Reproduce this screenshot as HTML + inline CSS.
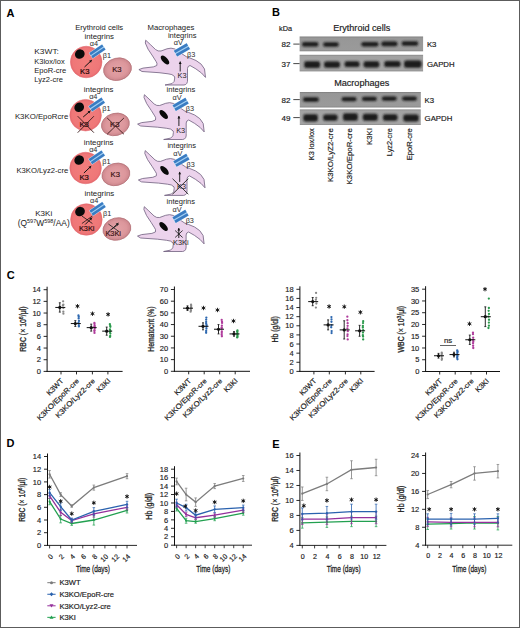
<!DOCTYPE html>
<html><head><meta charset="utf-8"><style>
html,body{margin:0;padding:0;background:#fff;}
#fig{position:absolute;left:0;top:0;width:520px;height:628px;overflow:hidden;}
svg text{font-family:"Liberation Sans", sans-serif;}
</style></head><body>
<div id="fig"><svg width="520" height="628" viewBox="0 0 520 628" font-family='"Liberation Sans", sans-serif'>
<defs>
<radialGradient id="gBig" cx="0.5" cy="0.5" r="0.5"><stop offset="0" stop-color="#f27e7c"/><stop offset="0.85" stop-color="#ef7778"/><stop offset="1" stop-color="#e66a6e"/></radialGradient>
<radialGradient id="gSmall" cx="0.5" cy="0.5" r="0.5"><stop offset="0" stop-color="#e3a2a6"/><stop offset="0.7" stop-color="#dc979c"/><stop offset="0.92" stop-color="#d08a90"/><stop offset="1" stop-color="#c27e84"/></radialGradient>
<linearGradient id="gBlot" x1="0" y1="0" x2="0" y2="1"><stop offset="0" stop-color="#7c7c7c"/><stop offset="0.1" stop-color="#979797"/><stop offset="0.9" stop-color="#9a9a9a"/><stop offset="1" stop-color="#838383"/></linearGradient><linearGradient id="gBlot2" x1="0" y1="0" x2="0" y2="1"><stop offset="0" stop-color="#888888"/><stop offset="0.1" stop-color="#a2a2a2"/><stop offset="0.9" stop-color="#a4a4a4"/><stop offset="1" stop-color="#8c8c8c"/></linearGradient>
<filter id="blur" x="-20%" y="-50%" width="140%" height="200%"><feGaussianBlur stdDeviation="0.8"/></filter>
</defs>
<rect x="0" y="0" width="520" height="628" fill="#fff"/>
<text x="6.50" y="16.60" font-size="11" text-anchor="start" font-weight="bold" fill="#000" >A</text>
<text x="272.00" y="16.30" font-size="11" text-anchor="start" font-weight="bold" fill="#000" >B</text>
<text x="6.70" y="279.00" font-size="11" text-anchor="start" font-weight="bold" fill="#000" >C</text>
<text x="6.60" y="447.30" font-size="11" text-anchor="start" font-weight="bold" fill="#000" >D</text>
<text x="272.20" y="447.60" font-size="11" text-anchor="start" font-weight="bold" fill="#000" >E</text>
<text x="99.20" y="29.50" font-size="8.1" text-anchor="middle" font-weight="normal" fill="#222" stroke="none" textLength="48.0" lengthAdjust="spacingAndGlyphs">Erythroid cells</text>
<text x="170.90" y="29.50" font-size="8.1" text-anchor="middle" font-weight="normal" fill="#222" stroke="none" textLength="46.8" lengthAdjust="spacingAndGlyphs">Macrophages</text>
<circle cx="86.20" cy="62.00" r="15.8" fill="url(#gBig)" stroke="#e3686e" stroke-width="0.5"/>
<ellipse cx="79.80" cy="54.10" rx="5.0" ry="4.6" fill="#0a0a0a" transform="rotate(-35 79.80 54.10)"/>
<g transform="translate(97.40,51.30) rotate(-34)"><rect x="-8.10" y="-3.50" width="16.20" height="7.00" fill="#e8f2fb" opacity="0.8"/><rect x="-7.70" y="-3.10" width="15.40" height="6.20" fill="#a6d2f4"/><rect x="-7.70" y="-3.10" width="15.40" height="2.55" fill="#3a7cc2"/><rect x="-7.70" y="0.55" width="15.40" height="2.55" fill="#3a7cc2"/></g>
<text x="93.90" y="45.80" font-size="7.3" text-anchor="middle" font-weight="normal" fill="#2c2c2c" stroke="none">α4</text>
<text x="107.00" y="58.00" font-size="7.3" text-anchor="middle" font-weight="normal" fill="#2c2c2c" stroke="none">β1</text>
<text x="99.20" y="38.70" font-size="8.1" text-anchor="middle" font-weight="normal" fill="#222" stroke="none" textLength="29.6" lengthAdjust="spacingAndGlyphs">integrins</text>
<ellipse cx="117.50" cy="69.20" rx="14.1" ry="11.1" fill="url(#gSmall)" stroke="#b8767c" stroke-width="0.8" transform="rotate(-14 117.50 69.20)"/>
<text x="84.80" y="73.90" font-size="7.7" text-anchor="middle" font-weight="normal" fill="#1a0505"  stroke="#1a0505" stroke-width="0.18">K3</text>
<text x="116.90" y="72.20" font-size="7.7" text-anchor="middle" font-weight="normal" fill="#3a1212"  stroke="#3a1212" stroke-width="0.18">K3</text>
<line x1="84.50" y1="67.00" x2="91.80" y2="60.10" stroke="#111" stroke-width="1.0" />
<polygon points="91.80,60.10 89.07,60.70 91.04,62.80" fill="#111"/>
<circle cx="85.60" cy="115.20" r="15.8" fill="url(#gBig)" stroke="#e3686e" stroke-width="0.5"/>
<ellipse cx="79.20" cy="107.30" rx="5.0" ry="4.6" fill="#0a0a0a" transform="rotate(-35 79.20 107.30)"/>
<g transform="translate(96.80,104.50) rotate(-34)"><rect x="-8.10" y="-3.50" width="16.20" height="7.00" fill="#e8f2fb" opacity="0.8"/><rect x="-7.70" y="-3.10" width="15.40" height="6.20" fill="#a6d2f4"/><rect x="-7.70" y="-3.10" width="15.40" height="2.55" fill="#3a7cc2"/><rect x="-7.70" y="0.55" width="15.40" height="2.55" fill="#3a7cc2"/></g>
<text x="93.30" y="99.00" font-size="7.3" text-anchor="middle" font-weight="normal" fill="#2c2c2c" stroke="none">α4</text>
<text x="106.40" y="111.20" font-size="7.3" text-anchor="middle" font-weight="normal" fill="#2c2c2c" stroke="none">β1</text>
<text x="98.60" y="91.90" font-size="8.1" text-anchor="middle" font-weight="normal" fill="#222" stroke="none" textLength="29.6" lengthAdjust="spacingAndGlyphs">integrins</text>
<ellipse cx="115.40" cy="124.40" rx="14.1" ry="11.1" fill="url(#gSmall)" stroke="#b8767c" stroke-width="0.8" transform="rotate(-14 115.40 124.40)"/>
<text x="84.20" y="127.10" font-size="7.7" text-anchor="middle" font-weight="normal" fill="#1a0505"  stroke="#1a0505" stroke-width="0.18">K3</text>
<text x="114.80" y="127.40" font-size="7.7" text-anchor="middle" font-weight="normal" fill="#3a1212"  stroke="#3a1212" stroke-width="0.18">K3</text>
<line x1="83.20" y1="117.00" x2="90.40" y2="110.80" stroke="#111" stroke-width="1.0" />
<polygon points="90.40,110.80 87.64,111.27 89.52,113.46" fill="#111"/>
<line x1="77.70" y1="116.20" x2="93.90" y2="132.70" stroke="#3a1a1a" stroke-width="0.9" />
<line x1="93.90" y1="116.20" x2="77.70" y2="132.70" stroke="#3a1a1a" stroke-width="0.9" />
<line x1="107.20" y1="118.00" x2="123.90" y2="134.20" stroke="#3a1a1a" stroke-width="0.9" />
<line x1="123.90" y1="118.00" x2="107.20" y2="134.20" stroke="#3a1a1a" stroke-width="0.9" />
<circle cx="85.60" cy="168.00" r="15.8" fill="url(#gBig)" stroke="#e3686e" stroke-width="0.5"/>
<ellipse cx="79.20" cy="160.10" rx="5.0" ry="4.6" fill="#0a0a0a" transform="rotate(-35 79.20 160.10)"/>
<g transform="translate(96.80,157.30) rotate(-34)"><rect x="-8.10" y="-3.50" width="16.20" height="7.00" fill="#e8f2fb" opacity="0.8"/><rect x="-7.70" y="-3.10" width="15.40" height="6.20" fill="#a6d2f4"/><rect x="-7.70" y="-3.10" width="15.40" height="2.55" fill="#3a7cc2"/><rect x="-7.70" y="0.55" width="15.40" height="2.55" fill="#3a7cc2"/></g>
<text x="93.30" y="151.80" font-size="7.3" text-anchor="middle" font-weight="normal" fill="#2c2c2c" stroke="none">α4</text>
<text x="106.40" y="164.00" font-size="7.3" text-anchor="middle" font-weight="normal" fill="#2c2c2c" stroke="none">β1</text>
<text x="98.60" y="144.70" font-size="8.1" text-anchor="middle" font-weight="normal" fill="#222" stroke="none" textLength="29.6" lengthAdjust="spacingAndGlyphs">integrins</text>
<ellipse cx="115.90" cy="174.40" rx="14.1" ry="11.1" fill="url(#gSmall)" stroke="#b8767c" stroke-width="0.8" transform="rotate(-14 115.90 174.40)"/>
<text x="84.20" y="179.90" font-size="7.7" text-anchor="middle" font-weight="normal" fill="#1a0505"  stroke="#1a0505" stroke-width="0.18">K3</text>
<text x="115.30" y="177.40" font-size="7.7" text-anchor="middle" font-weight="normal" fill="#3a1212"  stroke="#3a1212" stroke-width="0.18">K3</text>
<line x1="83.90" y1="173.00" x2="91.20" y2="166.10" stroke="#111" stroke-width="1.0" />
<polygon points="91.20,166.10 88.47,166.70 90.44,168.80" fill="#111"/>
<circle cx="86.40" cy="219.50" r="15.8" fill="url(#gBig)" stroke="#e3686e" stroke-width="0.5"/>
<ellipse cx="80.00" cy="211.60" rx="5.0" ry="4.6" fill="#0a0a0a" transform="rotate(-35 80.00 211.60)"/>
<g transform="translate(97.60,208.80) rotate(-34)"><rect x="-8.10" y="-3.50" width="16.20" height="7.00" fill="#e8f2fb" opacity="0.8"/><rect x="-7.70" y="-3.10" width="15.40" height="6.20" fill="#a6d2f4"/><rect x="-7.70" y="-3.10" width="15.40" height="2.55" fill="#3a7cc2"/><rect x="-7.70" y="0.55" width="15.40" height="2.55" fill="#3a7cc2"/></g>
<text x="94.10" y="203.30" font-size="7.3" text-anchor="middle" font-weight="normal" fill="#2c2c2c" stroke="none">α4</text>
<text x="107.20" y="215.50" font-size="7.3" text-anchor="middle" font-weight="normal" fill="#2c2c2c" stroke="none">β1</text>
<text x="99.40" y="196.20" font-size="8.1" text-anchor="middle" font-weight="normal" fill="#222" stroke="none" textLength="29.6" lengthAdjust="spacingAndGlyphs">integrins</text>
<ellipse cx="116.90" cy="229.00" rx="14.1" ry="11.1" fill="url(#gSmall)" stroke="#b8767c" stroke-width="0.8" transform="rotate(-14 116.90 229.00)"/>
<text x="86.70" y="231.10" font-size="7.4" text-anchor="middle" font-weight="normal" fill="#2a0a0a"  stroke="#2a0a0a" stroke-width="0.18">K3Ki</text>
<text x="113.20" y="235.60" font-size="7.4" text-anchor="middle" font-weight="normal" fill="#3a1515"  stroke="#3a1515" stroke-width="0.18">K3Ki</text>
<line x1="85.20" y1="224.50" x2="92.00" y2="217.70" stroke="#111" stroke-width="1.0" />
<polygon points="92.00,217.70 89.28,218.38 91.32,220.42" fill="#111"/>
<line x1="81.90" y1="216.00" x2="92.40" y2="223.50" stroke="#111" stroke-width="0.8" />
<line x1="92.40" y1="216.00" x2="81.90" y2="223.50" stroke="#111" stroke-width="0.8" />
<line x1="111.40" y1="229.50" x2="118.40" y2="223.00" stroke="#222" stroke-width="1.0" />
<polygon points="118.40,223.00 115.66,223.58 117.62,225.69" fill="#222"/>
<line x1="108.40" y1="224.00" x2="118.90" y2="231.50" stroke="#222" stroke-width="0.8" />
<line x1="118.90" y1="224.00" x2="108.40" y2="231.50" stroke="#222" stroke-width="0.8" />
<g transform="translate(0.00,0.00)">
<path d="M145.7,40.2 L150.3,44.5 L155.5,49.5 Q158,51.6 161,51 L167,48.8 Q171,47.4 175,49 L183,54.5 Q186,57 190,58 L196,60.5 Q202,63.5 204.5,69 L205.5,77.4 L201.5,73 Q196,68.5 190,65.5 Q187.6,66 187.5,68.5 L187.5,79 Q188,84.6 184,85 L165,85 L172,83.6 Q175,82 174.7,78 L174.5,76.5 Q172.5,74 168,73.8 L159,72.7 L142,71.5 L138.9,69.6 L143,68.1 L153.3,66.9 L156.8,65.5 Q157.5,63 156,61.4 L152.6,56 L148,49.1 L145.3,43 Z" fill="#ecd3ec" stroke="#6e5e7e" stroke-width="0.8" stroke-linejoin="round"/>
<ellipse cx="165.0" cy="60.0" rx="5.6" ry="2.7" fill="#0a0a0a" transform="rotate(47 165.0 60.0)"/>
</g>
<g transform="translate(181.90,49.90) rotate(-30)"><rect x="-7.80" y="-3.70" width="15.60" height="7.40" fill="#e8f2fb" opacity="0.8"/><rect x="-7.40" y="-3.30" width="14.80" height="6.60" fill="#a6d2f4"/><rect x="-7.40" y="-3.30" width="14.80" height="2.75" fill="#3a7cc2"/><rect x="-7.40" y="0.55" width="14.80" height="2.75" fill="#3a7cc2"/></g>
<text x="178.40" y="45.10" font-size="7.3" text-anchor="middle" font-weight="normal" fill="#2c2c2c" stroke="none">αV</text>
<text x="191.20" y="56.50" font-size="7.3" text-anchor="middle" font-weight="normal" fill="#2c2c2c" stroke="none">β3</text>
<text x="182.20" y="37.70" font-size="8.1" text-anchor="middle" font-weight="normal" fill="#222" stroke="none" textLength="28.6" lengthAdjust="spacingAndGlyphs">integrins</text>
<line x1="180.20" y1="71.50" x2="180.20" y2="61.50" stroke="#111" stroke-width="0.9" />
<polygon points="180.20,61.50 178.76,63.90 181.64,63.90" fill="#111"/>
<text x="182.00" y="78.20" font-size="7.4" text-anchor="middle" font-weight="normal" fill="#222" stroke="none">K3</text>
<g transform="translate(-1.30,54.50)">
<path d="M145.7,40.2 L150.3,44.5 L155.5,49.5 Q158,51.6 161,51 L167,48.8 Q171,47.4 175,49 L183,54.5 Q186,57 190,58 L196,60.5 Q202,63.5 204.5,69 L205.5,77.4 L201.5,73 Q196,68.5 190,65.5 Q187.6,66 187.5,68.5 L187.5,79 Q188,84.6 184,85 L165,85 L172,83.6 Q175,82 174.7,78 L174.5,76.5 Q172.5,74 168,73.8 L159,72.7 L142,71.5 L138.9,69.6 L143,68.1 L153.3,66.9 L156.8,65.5 Q157.5,63 156,61.4 L152.6,56 L148,49.1 L145.3,43 Z" fill="#ecd3ec" stroke="#6e5e7e" stroke-width="0.8" stroke-linejoin="round"/>
<ellipse cx="165.0" cy="60.0" rx="5.6" ry="2.7" fill="#0a0a0a" transform="rotate(47 165.0 60.0)"/>
</g>
<g transform="translate(180.60,104.40) rotate(-30)"><rect x="-7.80" y="-3.70" width="15.60" height="7.40" fill="#e8f2fb" opacity="0.8"/><rect x="-7.40" y="-3.30" width="14.80" height="6.60" fill="#a6d2f4"/><rect x="-7.40" y="-3.30" width="14.80" height="2.75" fill="#3a7cc2"/><rect x="-7.40" y="0.55" width="14.80" height="2.75" fill="#3a7cc2"/></g>
<text x="177.10" y="99.60" font-size="7.3" text-anchor="middle" font-weight="normal" fill="#2c2c2c" stroke="none">αV</text>
<text x="189.90" y="111.00" font-size="7.3" text-anchor="middle" font-weight="normal" fill="#2c2c2c" stroke="none">β3</text>
<text x="180.90" y="92.20" font-size="8.1" text-anchor="middle" font-weight="normal" fill="#222" stroke="none" textLength="28.6" lengthAdjust="spacingAndGlyphs">integrins</text>
<line x1="178.90" y1="126.00" x2="178.90" y2="116.00" stroke="#111" stroke-width="0.9" />
<polygon points="178.90,116.00 177.46,118.40 180.34,118.40" fill="#111"/>
<text x="180.70" y="132.70" font-size="7.4" text-anchor="middle" font-weight="normal" fill="#222" stroke="none">K3</text>
<g transform="translate(-0.50,110.40)">
<path d="M145.7,40.2 L150.3,44.5 L155.5,49.5 Q158,51.6 161,51 L167,48.8 Q171,47.4 175,49 L183,54.5 Q186,57 190,58 L196,60.5 Q202,63.5 204.5,69 L205.5,77.4 L201.5,73 Q196,68.5 190,65.5 Q187.6,66 187.5,68.5 L187.5,79 Q188,84.6 184,85 L165,85 L172,83.6 Q175,82 174.7,78 L174.5,76.5 Q172.5,74 168,73.8 L159,72.7 L142,71.5 L138.9,69.6 L143,68.1 L153.3,66.9 L156.8,65.5 Q157.5,63 156,61.4 L152.6,56 L148,49.1 L145.3,43 Z" fill="#ecd3ec" stroke="#6e5e7e" stroke-width="0.8" stroke-linejoin="round"/>
<ellipse cx="165.0" cy="60.0" rx="5.6" ry="2.7" fill="#0a0a0a" transform="rotate(47 165.0 60.0)"/>
</g>
<g transform="translate(181.40,160.30) rotate(-30)"><rect x="-7.80" y="-3.70" width="15.60" height="7.40" fill="#e8f2fb" opacity="0.8"/><rect x="-7.40" y="-3.30" width="14.80" height="6.60" fill="#a6d2f4"/><rect x="-7.40" y="-3.30" width="14.80" height="2.75" fill="#3a7cc2"/><rect x="-7.40" y="0.55" width="14.80" height="2.75" fill="#3a7cc2"/></g>
<text x="177.90" y="155.50" font-size="7.3" text-anchor="middle" font-weight="normal" fill="#2c2c2c" stroke="none">αV</text>
<text x="190.70" y="166.90" font-size="7.3" text-anchor="middle" font-weight="normal" fill="#2c2c2c" stroke="none">β3</text>
<text x="181.70" y="148.10" font-size="8.1" text-anchor="middle" font-weight="normal" fill="#222" stroke="none" textLength="28.6" lengthAdjust="spacingAndGlyphs">integrins</text>
<line x1="179.70" y1="181.90" x2="179.70" y2="171.90" stroke="#111" stroke-width="0.9" />
<polygon points="179.70,171.90 178.26,174.30 181.14,174.30" fill="#111"/>
<text x="181.50" y="188.60" font-size="7.4" text-anchor="middle" font-weight="normal" fill="#222" stroke="none">K3</text>
<line x1="172.50" y1="178.70" x2="188.30" y2="194.20" stroke="#222" stroke-width="0.9" />
<line x1="188.30" y1="178.70" x2="172.50" y2="194.20" stroke="#222" stroke-width="0.9" />
<g transform="translate(-1.40,166.50)">
<path d="M145.7,40.2 L150.3,44.5 L155.5,49.5 Q158,51.6 161,51 L167,48.8 Q171,47.4 175,49 L183,54.5 Q186,57 190,58 L196,60.5 Q202,63.5 204.5,69 L205.5,77.4 L201.5,73 Q196,68.5 190,65.5 Q187.6,66 187.5,68.5 L187.5,79 Q188,84.6 184,85 L165,85 L172,83.6 Q175,82 174.7,78 L174.5,76.5 Q172.5,74 168,73.8 L159,72.7 L142,71.5 L138.9,69.6 L143,68.1 L153.3,66.9 L156.8,65.5 Q157.5,63 156,61.4 L152.6,56 L148,49.1 L145.3,43 Z" fill="#ecd3ec" stroke="#6e5e7e" stroke-width="0.8" stroke-linejoin="round"/>
<ellipse cx="165.0" cy="60.0" rx="5.6" ry="2.7" fill="#0a0a0a" transform="rotate(47 165.0 60.0)"/>
</g>
<g transform="translate(180.50,216.40) rotate(-30)"><rect x="-7.80" y="-3.70" width="15.60" height="7.40" fill="#e8f2fb" opacity="0.8"/><rect x="-7.40" y="-3.30" width="14.80" height="6.60" fill="#a6d2f4"/><rect x="-7.40" y="-3.30" width="14.80" height="2.75" fill="#3a7cc2"/><rect x="-7.40" y="0.55" width="14.80" height="2.75" fill="#3a7cc2"/></g>
<text x="177.00" y="211.60" font-size="7.3" text-anchor="middle" font-weight="normal" fill="#2c2c2c" stroke="none">αV</text>
<text x="189.80" y="223.00" font-size="7.3" text-anchor="middle" font-weight="normal" fill="#2c2c2c" stroke="none">β3</text>
<text x="180.80" y="204.20" font-size="8.1" text-anchor="middle" font-weight="normal" fill="#222" stroke="none" textLength="28.6" lengthAdjust="spacingAndGlyphs">integrins</text>
<line x1="178.80" y1="238.00" x2="178.80" y2="228.00" stroke="#111" stroke-width="0.9" />
<polygon points="178.80,228.00 177.36,230.40 180.24,230.40" fill="#111"/>
<line x1="175.10" y1="230.50" x2="182.60" y2="237.50" stroke="#111" stroke-width="0.8" />
<line x1="182.60" y1="230.50" x2="175.10" y2="237.50" stroke="#111" stroke-width="0.8" />
<text x="180.80" y="244.90" font-size="7.4" text-anchor="middle" font-weight="normal" fill="#222" stroke="none">K3Ki</text>
<text x="34.30" y="53.60" font-size="8.1" text-anchor="start" font-weight="normal" fill="#222" stroke="none" textLength="24.6" lengthAdjust="spacingAndGlyphs">K3WT:</text>
<text x="34.30" y="63.50" font-size="8.1" text-anchor="start" font-weight="normal" fill="#222" stroke="none" textLength="30.4" lengthAdjust="spacingAndGlyphs">K3lox/lox</text>
<text x="34.30" y="72.90" font-size="8.1" text-anchor="start" font-weight="normal" fill="#222" stroke="none" textLength="32.0" lengthAdjust="spacingAndGlyphs">EpoR-cre</text>
<text x="34.30" y="82.20" font-size="8.1" text-anchor="start" font-weight="normal" fill="#222" stroke="none" textLength="28.6" lengthAdjust="spacingAndGlyphs">Lyz2-cre</text>
<text x="68.30" y="118.60" font-size="8.1" text-anchor="end" font-weight="normal" fill="#222" stroke="none" textLength="53.4" lengthAdjust="spacingAndGlyphs">K3KO/EpoRcre</text>
<text x="68.30" y="172.80" font-size="8.1" text-anchor="end" font-weight="normal" fill="#222" stroke="none" textLength="51.9" lengthAdjust="spacingAndGlyphs">K3KO/Lyz2-cre</text>
<text x="43.70" y="216.10" font-size="8.1" text-anchor="middle" font-weight="normal" fill="#222" stroke="none" textLength="17.0" lengthAdjust="spacingAndGlyphs">K3Ki</text>
<text x="43.7" y="225.7" font-size="8.2" text-anchor="middle" fill="#222" textLength="52" lengthAdjust="spacingAndGlyphs">(Q<tspan font-size="5.4" dy="-3">597</tspan><tspan dy="3">W</tspan><tspan font-size="5.4" dy="-3">598</tspan><tspan dy="3">/AA)</tspan></text>
<text x="285.60" y="31.20" font-size="7.3" text-anchor="middle" font-weight="normal" fill="#222"  stroke="#222" stroke-width="0.18">kDa</text>
<text x="361.70" y="31.30" font-size="9.1" text-anchor="middle" font-weight="normal" fill="#222"  stroke="#222" stroke-width="0.18">Erythroid cells</text>
<text x="361.70" y="86.30" font-size="9.1" text-anchor="middle" font-weight="normal" fill="#222"  stroke="#222" stroke-width="0.18">Macrophages</text>
<rect x="299.6" y="36.5" width="123.50" height="14.80" fill="url(#gBlot)"/>
<rect x="302.00" y="42.00" width="16.40" height="4.60" rx="2.20" fill="#1a1a1a" filter="url(#blur)"/>
<rect x="323.20" y="42.20" width="15.50" height="4.60" rx="2.20" fill="#1a1a1a" filter="url(#blur)"/>
<rect x="361.30" y="41.90" width="17.20" height="4.60" rx="2.20" fill="#1a1a1a" filter="url(#blur)"/>
<rect x="381.30" y="41.60" width="16.20" height="4.60" rx="2.20" fill="#1a1a1a" filter="url(#blur)"/>
<rect x="401.60" y="41.20" width="16.60" height="4.60" rx="2.20" fill="#1a1a1a" filter="url(#blur)"/>
<text x="426.90" y="47.00" font-size="7.8" text-anchor="start" font-weight="normal" fill="#1c1c1c"  stroke="#1c1c1c" stroke-width="0.18">K3</text>
<text x="290.40" y="47.00" font-size="8" text-anchor="end" font-weight="normal" fill="#1c1c1c"  stroke="#1c1c1c" stroke-width="0.18">82</text>
<line x1="293.30" y1="44.10" x2="299.60" y2="44.10" stroke="#333" stroke-width="0.9" />
<rect x="299.6" y="54.8" width="123.50" height="16.60" fill="url(#gBlot2)"/>
<rect x="304.20" y="61.30" width="15.90" height="6.60" rx="2.20" fill="#1a1a1a" filter="url(#blur)"/>
<rect x="324.10" y="61.40" width="15.90" height="6.40" rx="2.20" fill="#1a1a1a" filter="url(#blur)"/>
<rect x="344.60" y="61.30" width="14.90" height="5.80" rx="2.20" fill="#1a1a1a" filter="url(#blur)"/>
<rect x="363.60" y="61.20" width="15.70" height="6.20" rx="2.20" fill="#1a1a1a" filter="url(#blur)"/>
<rect x="384.30" y="61.10" width="16.20" height="6.00" rx="2.20" fill="#1a1a1a" filter="url(#blur)"/>
<rect x="404.10" y="60.40" width="17.40" height="7.40" rx="2.20" fill="#1a1a1a" filter="url(#blur)"/>
<text x="426.90" y="66.50" font-size="7.8" text-anchor="start" font-weight="normal" fill="#1c1c1c"  stroke="#1c1c1c" stroke-width="0.18">GAPDH</text>
<text x="290.40" y="66.50" font-size="8" text-anchor="end" font-weight="normal" fill="#1c1c1c"  stroke="#1c1c1c" stroke-width="0.18">37</text>
<line x1="293.30" y1="63.60" x2="299.60" y2="63.60" stroke="#333" stroke-width="0.9" />
<rect x="299.8" y="92.0" width="121.00" height="15.50" fill="url(#gBlot)"/>
<rect x="302.90" y="97.30" width="15.90" height="4.40" rx="2.20" fill="#1a1a1a" filter="url(#blur)"/>
<rect x="341.60" y="97.10" width="14.90" height="4.20" rx="2.10" fill="#1a1a1a" filter="url(#blur)"/>
<rect x="362.00" y="96.80" width="14.80" height="4.20" rx="2.10" fill="#1a1a1a" filter="url(#blur)"/>
<rect x="381.80" y="96.50" width="14.90" height="4.20" rx="2.10" fill="#1a1a1a" filter="url(#blur)"/>
<rect x="402.10" y="96.50" width="14.90" height="4.20" rx="2.10" fill="#1a1a1a" filter="url(#blur)"/>
<text x="424.60" y="102.50" font-size="7.8" text-anchor="start" font-weight="normal" fill="#1c1c1c"  stroke="#1c1c1c" stroke-width="0.18">K3</text>
<text x="290.40" y="102.50" font-size="8" text-anchor="end" font-weight="normal" fill="#1c1c1c"  stroke="#1c1c1c" stroke-width="0.18">82</text>
<line x1="293.30" y1="99.60" x2="299.80" y2="99.60" stroke="#333" stroke-width="0.9" />
<rect x="299.8" y="109.4" width="121.00" height="15.60" fill="url(#gBlot2)"/>
<rect x="303.30" y="114.20" width="14.50" height="7.20" rx="2.20" fill="#1a1a1a" filter="url(#blur)"/>
<rect x="323.20" y="114.40" width="14.30" height="6.40" rx="2.20" fill="#1a1a1a" filter="url(#blur)"/>
<rect x="343.00" y="113.30" width="14.80" height="7.40" rx="2.20" fill="#1a1a1a" filter="url(#blur)"/>
<rect x="362.80" y="113.70" width="14.90" height="7.00" rx="2.20" fill="#1a1a1a" filter="url(#blur)"/>
<rect x="383.00" y="114.20" width="14.50" height="6.60" rx="2.20" fill="#1a1a1a" filter="url(#blur)"/>
<rect x="403.30" y="114.50" width="15.40" height="7.00" rx="2.20" fill="#1a1a1a" filter="url(#blur)"/>
<text x="424.60" y="120.50" font-size="7.8" text-anchor="start" font-weight="normal" fill="#1c1c1c"  stroke="#1c1c1c" stroke-width="0.18">GAPDH</text>
<text x="290.40" y="120.50" font-size="8" text-anchor="end" font-weight="normal" fill="#1c1c1c"  stroke="#1c1c1c" stroke-width="0.18">49</text>
<line x1="293.30" y1="117.60" x2="299.80" y2="117.60" stroke="#333" stroke-width="0.9" />
<text transform="translate(313.60,128.2) rotate(-90)" font-size="7.6" text-anchor="end" fill="#1c1c1c" stroke="#1c1c1c" stroke-width="0.18" textLength="32.0" lengthAdjust="spacingAndGlyphs">K3 lox/lox</text>
<text transform="translate(332.80,128.2) rotate(-90)" font-size="7.6" text-anchor="end" fill="#1c1c1c" stroke="#1c1c1c" stroke-width="0.18" textLength="53.9" lengthAdjust="spacingAndGlyphs">K3KO/LyZ2-cre</text>
<text transform="translate(351.80,128.2) rotate(-90)" font-size="7.6" text-anchor="end" fill="#1c1c1c" stroke="#1c1c1c" stroke-width="0.18" textLength="56.2" lengthAdjust="spacingAndGlyphs">K3KO/EpoR-cre</text>
<text transform="translate(372.40,128.2) rotate(-90)" font-size="7.6" text-anchor="end" fill="#1c1c1c" stroke="#1c1c1c" stroke-width="0.18" textLength="16.8" lengthAdjust="spacingAndGlyphs">K3KI</text>
<text transform="translate(392.40,128.2) rotate(-90)" font-size="7.6" text-anchor="end" fill="#1c1c1c" stroke="#1c1c1c" stroke-width="0.18" textLength="28.0" lengthAdjust="spacingAndGlyphs">Lyz2-cre</text>
<text transform="translate(412.40,128.2) rotate(-90)" font-size="7.6" text-anchor="end" fill="#1c1c1c" stroke="#1c1c1c" stroke-width="0.18" textLength="32.0" lengthAdjust="spacingAndGlyphs">EpoR-cre</text>
<line x1="47.10" y1="286.70" x2="47.10" y2="371.90" stroke="#111" stroke-width="1.0" />
<line x1="43.60" y1="371.40" x2="47.10" y2="371.40" stroke="#111" stroke-width="0.9" />
<text x="40.80" y="374.10" font-size="7.5" text-anchor="end" font-weight="normal" fill="#1c1c1c" stroke="#1c1c1c" stroke-width="0.15">0</text>
<line x1="43.60" y1="359.73" x2="47.10" y2="359.73" stroke="#111" stroke-width="0.9" />
<text x="40.80" y="362.43" font-size="7.5" text-anchor="end" font-weight="normal" fill="#1c1c1c" stroke="#1c1c1c" stroke-width="0.15">2</text>
<line x1="43.60" y1="348.06" x2="47.10" y2="348.06" stroke="#111" stroke-width="0.9" />
<text x="40.80" y="350.76" font-size="7.5" text-anchor="end" font-weight="normal" fill="#1c1c1c" stroke="#1c1c1c" stroke-width="0.15">4</text>
<line x1="43.60" y1="336.39" x2="47.10" y2="336.39" stroke="#111" stroke-width="0.9" />
<text x="40.80" y="339.09" font-size="7.5" text-anchor="end" font-weight="normal" fill="#1c1c1c" stroke="#1c1c1c" stroke-width="0.15">6</text>
<line x1="43.60" y1="324.71" x2="47.10" y2="324.71" stroke="#111" stroke-width="0.9" />
<text x="40.80" y="327.41" font-size="7.5" text-anchor="end" font-weight="normal" fill="#1c1c1c" stroke="#1c1c1c" stroke-width="0.15">8</text>
<line x1="43.60" y1="313.04" x2="47.10" y2="313.04" stroke="#111" stroke-width="0.9" />
<text x="40.80" y="315.74" font-size="7.5" text-anchor="end" font-weight="normal" fill="#1c1c1c" stroke="#1c1c1c" stroke-width="0.15">10</text>
<line x1="43.60" y1="301.37" x2="47.10" y2="301.37" stroke="#111" stroke-width="0.9" />
<text x="40.80" y="304.07" font-size="7.5" text-anchor="end" font-weight="normal" fill="#1c1c1c" stroke="#1c1c1c" stroke-width="0.15">12</text>
<line x1="43.60" y1="289.70" x2="47.10" y2="289.70" stroke="#111" stroke-width="0.9" />
<text x="40.80" y="292.40" font-size="7.5" text-anchor="end" font-weight="normal" fill="#1c1c1c" stroke="#1c1c1c" stroke-width="0.15">14</text>
<line x1="46.65" y1="371.40" x2="122.60" y2="371.40" stroke="#111" stroke-width="1.0" />
<line x1="61.00" y1="371.40" x2="61.00" y2="374.40" stroke="#111" stroke-width="0.9" />
<text transform="translate(64.00,381.40) rotate(-45)" font-size="7.4" text-anchor="end" fill="#1c1c1c" stroke="#1c1c1c" stroke-width="0.18">K3WT</text>
<circle cx="63.41" cy="313.63" r="1.15" fill="#8a8a8a"/>
<circle cx="63.33" cy="311.65" r="1.15" fill="#8a8a8a"/>
<circle cx="63.31" cy="307.98" r="1.15" fill="#8a8a8a"/>
<circle cx="62.91" cy="305.51" r="1.15" fill="#8a8a8a"/>
<circle cx="63.40" cy="304.64" r="1.15" fill="#8a8a8a"/>
<circle cx="63.13" cy="301.37" r="1.15" fill="#8a8a8a"/>
<line x1="55.30" y1="307.44" x2="65.30" y2="307.44" stroke="#111" stroke-width="1.0" />
<line x1="59.80" y1="302.77" x2="59.80" y2="312.11" stroke="#111" stroke-width="0.9" />
<line x1="58.80" y1="302.77" x2="60.80" y2="302.77" stroke="#111" stroke-width="0.8" />
<line x1="58.80" y1="312.11" x2="60.80" y2="312.11" stroke="#111" stroke-width="0.8" />
<circle cx="59.80" cy="307.44" r="1.6" fill="#111"/>
<line x1="76.50" y1="371.40" x2="76.50" y2="374.40" stroke="#111" stroke-width="0.9" />
<text transform="translate(79.50,381.40) rotate(-45)" font-size="7.4" text-anchor="end" fill="#1c1c1c" stroke="#1c1c1c" stroke-width="0.18" textLength="56.0" lengthAdjust="spacingAndGlyphs">K3KO/EpoR<tspan font-size="6.8">-cre</tspan></text>
<circle cx="78.87" cy="326.46" r="1.15" fill="#2d68b0"/>
<circle cx="78.81" cy="325.08" r="1.15" fill="#2d68b0"/>
<circle cx="78.49" cy="322.78" r="1.15" fill="#2d68b0"/>
<circle cx="78.95" cy="320.91" r="1.15" fill="#2d68b0"/>
<circle cx="78.66" cy="318.47" r="1.15" fill="#2d68b0"/>
<circle cx="78.75" cy="316.82" r="1.15" fill="#2d68b0"/>
<circle cx="78.46" cy="315.38" r="1.15" fill="#2d68b0"/>
<line x1="70.80" y1="323.55" x2="80.80" y2="323.55" stroke="#111" stroke-width="1.0" />
<line x1="75.30" y1="320.63" x2="75.30" y2="326.46" stroke="#111" stroke-width="0.9" />
<line x1="74.30" y1="320.63" x2="76.30" y2="320.63" stroke="#111" stroke-width="0.8" />
<line x1="74.30" y1="326.46" x2="76.30" y2="326.46" stroke="#111" stroke-width="0.8" />
<circle cx="75.30" cy="323.55" r="1.6" fill="#111"/>
<line x1="92.40" y1="371.40" x2="92.40" y2="374.40" stroke="#111" stroke-width="0.9" />
<text transform="translate(95.40,381.40) rotate(-45)" font-size="7.4" text-anchor="end" fill="#1c1c1c" stroke="#1c1c1c" stroke-width="0.18" textLength="52.3" lengthAdjust="spacingAndGlyphs">K3KO/Lyz2<tspan font-size="6.8">-cre</tspan></text>
<circle cx="94.50" cy="332.88" r="1.15" fill="#b03c9c"/>
<circle cx="94.40" cy="331.09" r="1.15" fill="#b03c9c"/>
<circle cx="94.51" cy="330.20" r="1.15" fill="#b03c9c"/>
<circle cx="94.75" cy="328.34" r="1.15" fill="#b03c9c"/>
<circle cx="94.39" cy="326.77" r="1.15" fill="#b03c9c"/>
<circle cx="94.70" cy="325.98" r="1.15" fill="#b03c9c"/>
<circle cx="94.51" cy="324.11" r="1.15" fill="#b03c9c"/>
<circle cx="94.40" cy="322.96" r="1.15" fill="#b03c9c"/>
<line x1="86.70" y1="327.63" x2="96.70" y2="327.63" stroke="#111" stroke-width="1.0" />
<line x1="91.20" y1="324.13" x2="91.20" y2="331.13" stroke="#111" stroke-width="0.9" />
<line x1="90.20" y1="324.13" x2="92.20" y2="324.13" stroke="#111" stroke-width="0.8" />
<line x1="90.20" y1="331.13" x2="92.20" y2="331.13" stroke="#111" stroke-width="0.8" />
<circle cx="91.20" cy="327.63" r="1.6" fill="#111"/>
<line x1="107.90" y1="371.40" x2="107.90" y2="374.40" stroke="#111" stroke-width="0.9" />
<text transform="translate(110.90,381.40) rotate(-45)" font-size="7.4" text-anchor="end" fill="#1c1c1c" stroke="#1c1c1c" stroke-width="0.18">K3KI</text>
<circle cx="109.98" cy="336.97" r="1.15" fill="#2a9a4c"/>
<circle cx="110.20" cy="335.88" r="1.15" fill="#2a9a4c"/>
<circle cx="110.36" cy="333.62" r="1.15" fill="#2a9a4c"/>
<circle cx="109.99" cy="332.08" r="1.15" fill="#2a9a4c"/>
<circle cx="110.37" cy="331.00" r="1.15" fill="#2a9a4c"/>
<circle cx="109.99" cy="329.47" r="1.15" fill="#2a9a4c"/>
<circle cx="110.38" cy="326.85" r="1.15" fill="#2a9a4c"/>
<circle cx="110.22" cy="325.84" r="1.15" fill="#2a9a4c"/>
<circle cx="109.87" cy="324.13" r="1.15" fill="#2a9a4c"/>
<line x1="102.20" y1="331.13" x2="112.20" y2="331.13" stroke="#111" stroke-width="1.0" />
<line x1="106.70" y1="327.05" x2="106.70" y2="335.22" stroke="#111" stroke-width="0.9" />
<line x1="105.70" y1="327.05" x2="107.70" y2="327.05" stroke="#111" stroke-width="0.8" />
<line x1="105.70" y1="335.22" x2="107.70" y2="335.22" stroke="#111" stroke-width="0.8" />
<circle cx="106.70" cy="331.13" r="1.6" fill="#111"/>
<path d="M77.50,308.00L77.50,304.40M75.94,307.10L79.06,305.30M75.94,305.30L79.06,307.10" stroke="#151515" stroke-width="0.9" stroke-linecap="round"/>
<circle cx="77.50" cy="306.20" r="1.0" fill="#151515"/>
<path d="M92.50,315.50L92.50,311.90M90.94,314.60L94.06,312.80M90.94,312.80L94.06,314.60" stroke="#151515" stroke-width="0.9" stroke-linecap="round"/>
<circle cx="92.50" cy="313.70" r="1.0" fill="#151515"/>
<path d="M108.10,316.20L108.10,312.60M106.54,315.30L109.66,313.50M106.54,313.50L109.66,315.30" stroke="#151515" stroke-width="0.9" stroke-linecap="round"/>
<circle cx="108.10" cy="314.40" r="1.0" fill="#151515"/>
<text transform="translate(25.50,329.10) rotate(-90)" font-size="8.4" text-anchor="middle" fill="#1c1c1c" textLength="45.2" lengthAdjust="spacingAndGlyphs" stroke="#1c1c1c" stroke-width="0.28">RBC (× 10<tspan font-size="6.2" dy="-2.7">6</tspan><tspan dy="2.7">/μl)</tspan></text>
<line x1="174.40" y1="286.50" x2="174.40" y2="371.80" stroke="#111" stroke-width="1.0" />
<line x1="170.90" y1="371.30" x2="174.40" y2="371.30" stroke="#111" stroke-width="0.9" />
<text x="168.10" y="374.00" font-size="7.5" text-anchor="end" font-weight="normal" fill="#1c1c1c" stroke="#1c1c1c" stroke-width="0.15">0</text>
<line x1="170.90" y1="359.61" x2="174.40" y2="359.61" stroke="#111" stroke-width="0.9" />
<text x="168.10" y="362.31" font-size="7.5" text-anchor="end" font-weight="normal" fill="#1c1c1c" stroke="#1c1c1c" stroke-width="0.15">10</text>
<line x1="170.90" y1="347.93" x2="174.40" y2="347.93" stroke="#111" stroke-width="0.9" />
<text x="168.10" y="350.63" font-size="7.5" text-anchor="end" font-weight="normal" fill="#1c1c1c" stroke="#1c1c1c" stroke-width="0.15">20</text>
<line x1="170.90" y1="336.24" x2="174.40" y2="336.24" stroke="#111" stroke-width="0.9" />
<text x="168.10" y="338.94" font-size="7.5" text-anchor="end" font-weight="normal" fill="#1c1c1c" stroke="#1c1c1c" stroke-width="0.15">30</text>
<line x1="170.90" y1="324.56" x2="174.40" y2="324.56" stroke="#111" stroke-width="0.9" />
<text x="168.10" y="327.26" font-size="7.5" text-anchor="end" font-weight="normal" fill="#1c1c1c" stroke="#1c1c1c" stroke-width="0.15">40</text>
<line x1="170.90" y1="312.87" x2="174.40" y2="312.87" stroke="#111" stroke-width="0.9" />
<text x="168.10" y="315.57" font-size="7.5" text-anchor="end" font-weight="normal" fill="#1c1c1c" stroke="#1c1c1c" stroke-width="0.15">50</text>
<line x1="170.90" y1="301.19" x2="174.40" y2="301.19" stroke="#111" stroke-width="0.9" />
<text x="168.10" y="303.89" font-size="7.5" text-anchor="end" font-weight="normal" fill="#1c1c1c" stroke="#1c1c1c" stroke-width="0.15">60</text>
<line x1="170.90" y1="289.50" x2="174.40" y2="289.50" stroke="#111" stroke-width="0.9" />
<text x="168.10" y="292.20" font-size="7.5" text-anchor="end" font-weight="normal" fill="#1c1c1c" stroke="#1c1c1c" stroke-width="0.15">70</text>
<line x1="173.95" y1="371.30" x2="250.00" y2="371.30" stroke="#111" stroke-width="1.0" />
<line x1="188.70" y1="371.30" x2="188.70" y2="374.30" stroke="#111" stroke-width="0.9" />
<text transform="translate(191.70,381.30) rotate(-45)" font-size="7.4" text-anchor="end" fill="#1c1c1c" stroke="#1c1c1c" stroke-width="0.18">K3WT</text>
<circle cx="190.61" cy="311.70" r="1.15" fill="#8a8a8a"/>
<circle cx="190.95" cy="310.45" r="1.15" fill="#8a8a8a"/>
<circle cx="190.75" cy="308.92" r="1.15" fill="#8a8a8a"/>
<circle cx="191.04" cy="307.40" r="1.15" fill="#8a8a8a"/>
<circle cx="191.19" cy="306.01" r="1.15" fill="#8a8a8a"/>
<circle cx="191.05" cy="304.69" r="1.15" fill="#8a8a8a"/>
<line x1="183.00" y1="308.20" x2="193.00" y2="308.20" stroke="#111" stroke-width="1.0" />
<line x1="187.50" y1="305.86" x2="187.50" y2="310.53" stroke="#111" stroke-width="0.9" />
<line x1="186.50" y1="305.86" x2="188.50" y2="305.86" stroke="#111" stroke-width="0.8" />
<line x1="186.50" y1="310.53" x2="188.50" y2="310.53" stroke="#111" stroke-width="0.8" />
<circle cx="187.50" cy="308.20" r="1.6" fill="#111"/>
<line x1="204.20" y1="371.30" x2="204.20" y2="374.30" stroke="#111" stroke-width="0.9" />
<text transform="translate(207.20,381.30) rotate(-45)" font-size="7.4" text-anchor="end" fill="#1c1c1c" stroke="#1c1c1c" stroke-width="0.18" textLength="56.0" lengthAdjust="spacingAndGlyphs">K3KO/EpoR<tspan font-size="6.8">-cre</tspan></text>
<circle cx="206.12" cy="332.74" r="1.15" fill="#2d68b0"/>
<circle cx="206.18" cy="330.99" r="1.15" fill="#2d68b0"/>
<circle cx="206.42" cy="328.70" r="1.15" fill="#2d68b0"/>
<circle cx="206.39" cy="326.74" r="1.15" fill="#2d68b0"/>
<circle cx="206.61" cy="325.27" r="1.15" fill="#2d68b0"/>
<circle cx="206.17" cy="323.68" r="1.15" fill="#2d68b0"/>
<circle cx="206.15" cy="321.98" r="1.15" fill="#2d68b0"/>
<circle cx="206.18" cy="319.72" r="1.15" fill="#2d68b0"/>
<circle cx="206.35" cy="317.55" r="1.15" fill="#2d68b0"/>
<line x1="198.50" y1="326.31" x2="208.50" y2="326.31" stroke="#111" stroke-width="1.0" />
<line x1="203.00" y1="322.80" x2="203.00" y2="329.82" stroke="#111" stroke-width="0.9" />
<line x1="202.00" y1="322.80" x2="204.00" y2="322.80" stroke="#111" stroke-width="0.8" />
<line x1="202.00" y1="329.82" x2="204.00" y2="329.82" stroke="#111" stroke-width="0.8" />
<circle cx="203.00" cy="326.31" r="1.6" fill="#111"/>
<line x1="219.70" y1="371.30" x2="219.70" y2="374.30" stroke="#111" stroke-width="0.9" />
<text transform="translate(222.70,381.30) rotate(-45)" font-size="7.4" text-anchor="end" fill="#1c1c1c" stroke="#1c1c1c" stroke-width="0.18" textLength="52.3" lengthAdjust="spacingAndGlyphs">K3KO/Lyz2<tspan font-size="6.8">-cre</tspan></text>
<circle cx="221.90" cy="336.24" r="1.15" fill="#b03c9c"/>
<circle cx="221.67" cy="334.70" r="1.15" fill="#b03c9c"/>
<circle cx="221.76" cy="332.95" r="1.15" fill="#b03c9c"/>
<circle cx="221.82" cy="331.32" r="1.15" fill="#b03c9c"/>
<circle cx="221.64" cy="328.52" r="1.15" fill="#b03c9c"/>
<circle cx="221.74" cy="327.44" r="1.15" fill="#b03c9c"/>
<circle cx="221.87" cy="325.62" r="1.15" fill="#b03c9c"/>
<circle cx="222.08" cy="322.96" r="1.15" fill="#b03c9c"/>
<circle cx="221.99" cy="321.80" r="1.15" fill="#b03c9c"/>
<circle cx="221.70" cy="319.88" r="1.15" fill="#b03c9c"/>
<line x1="214.00" y1="329.23" x2="224.00" y2="329.23" stroke="#111" stroke-width="1.0" />
<line x1="218.50" y1="324.56" x2="218.50" y2="333.91" stroke="#111" stroke-width="0.9" />
<line x1="217.50" y1="324.56" x2="219.50" y2="324.56" stroke="#111" stroke-width="0.8" />
<line x1="217.50" y1="333.91" x2="219.50" y2="333.91" stroke="#111" stroke-width="0.8" />
<circle cx="218.50" cy="329.23" r="1.6" fill="#111"/>
<line x1="235.20" y1="371.30" x2="235.20" y2="374.30" stroke="#111" stroke-width="0.9" />
<text transform="translate(238.20,381.30) rotate(-45)" font-size="7.4" text-anchor="end" fill="#1c1c1c" stroke="#1c1c1c" stroke-width="0.18">K3KI</text>
<circle cx="237.18" cy="337.41" r="1.15" fill="#2a9a4c"/>
<circle cx="237.51" cy="336.72" r="1.15" fill="#2a9a4c"/>
<circle cx="237.44" cy="335.31" r="1.15" fill="#2a9a4c"/>
<circle cx="237.33" cy="334.20" r="1.15" fill="#2a9a4c"/>
<circle cx="237.28" cy="333.72" r="1.15" fill="#2a9a4c"/>
<circle cx="237.37" cy="332.06" r="1.15" fill="#2a9a4c"/>
<circle cx="237.21" cy="331.32" r="1.15" fill="#2a9a4c"/>
<circle cx="237.46" cy="330.40" r="1.15" fill="#2a9a4c"/>
<line x1="229.50" y1="333.91" x2="239.50" y2="333.91" stroke="#111" stroke-width="1.0" />
<line x1="234.00" y1="331.57" x2="234.00" y2="336.24" stroke="#111" stroke-width="0.9" />
<line x1="233.00" y1="331.57" x2="235.00" y2="331.57" stroke="#111" stroke-width="0.8" />
<line x1="233.00" y1="336.24" x2="235.00" y2="336.24" stroke="#111" stroke-width="0.8" />
<circle cx="234.00" cy="333.91" r="1.6" fill="#111"/>
<path d="M203.50,309.80L203.50,306.20M201.94,308.90L205.06,307.10M201.94,307.10L205.06,308.90" stroke="#151515" stroke-width="0.9" stroke-linecap="round"/>
<circle cx="203.50" cy="308.00" r="1.0" fill="#151515"/>
<path d="M217.50,311.80L217.50,308.20M215.94,310.90L219.06,309.10M215.94,309.10L219.06,310.90" stroke="#151515" stroke-width="0.9" stroke-linecap="round"/>
<circle cx="217.50" cy="310.00" r="1.0" fill="#151515"/>
<path d="M233.50,322.80L233.50,319.20M231.94,321.90L235.06,320.10M231.94,320.10L235.06,321.90" stroke="#151515" stroke-width="0.9" stroke-linecap="round"/>
<circle cx="233.50" cy="321.00" r="1.0" fill="#151515"/>
<text transform="translate(153.80,329.10) rotate(-90)" font-size="8.4" text-anchor="middle" fill="#1c1c1c" textLength="45.2" lengthAdjust="spacingAndGlyphs" stroke="#1c1c1c" stroke-width="0.28">Hematocrit (%)</text>
<line x1="299.90" y1="286.30" x2="299.90" y2="371.90" stroke="#111" stroke-width="1.0" />
<line x1="296.40" y1="371.40" x2="299.90" y2="371.40" stroke="#111" stroke-width="0.9" />
<text x="293.60" y="374.10" font-size="7.5" text-anchor="end" font-weight="normal" fill="#1c1c1c" stroke="#1c1c1c" stroke-width="0.15">0</text>
<line x1="296.40" y1="362.28" x2="299.90" y2="362.28" stroke="#111" stroke-width="0.9" />
<text x="293.60" y="364.98" font-size="7.5" text-anchor="end" font-weight="normal" fill="#1c1c1c" stroke="#1c1c1c" stroke-width="0.15">2</text>
<line x1="296.40" y1="353.16" x2="299.90" y2="353.16" stroke="#111" stroke-width="0.9" />
<text x="293.60" y="355.86" font-size="7.5" text-anchor="end" font-weight="normal" fill="#1c1c1c" stroke="#1c1c1c" stroke-width="0.15">4</text>
<line x1="296.40" y1="344.03" x2="299.90" y2="344.03" stroke="#111" stroke-width="0.9" />
<text x="293.60" y="346.73" font-size="7.5" text-anchor="end" font-weight="normal" fill="#1c1c1c" stroke="#1c1c1c" stroke-width="0.15">6</text>
<line x1="296.40" y1="334.91" x2="299.90" y2="334.91" stroke="#111" stroke-width="0.9" />
<text x="293.60" y="337.61" font-size="7.5" text-anchor="end" font-weight="normal" fill="#1c1c1c" stroke="#1c1c1c" stroke-width="0.15">8</text>
<line x1="296.40" y1="325.79" x2="299.90" y2="325.79" stroke="#111" stroke-width="0.9" />
<text x="293.60" y="328.49" font-size="7.5" text-anchor="end" font-weight="normal" fill="#1c1c1c" stroke="#1c1c1c" stroke-width="0.15">10</text>
<line x1="296.40" y1="316.67" x2="299.90" y2="316.67" stroke="#111" stroke-width="0.9" />
<text x="293.60" y="319.37" font-size="7.5" text-anchor="end" font-weight="normal" fill="#1c1c1c" stroke="#1c1c1c" stroke-width="0.15">12</text>
<line x1="296.40" y1="307.54" x2="299.90" y2="307.54" stroke="#111" stroke-width="0.9" />
<text x="293.60" y="310.24" font-size="7.5" text-anchor="end" font-weight="normal" fill="#1c1c1c" stroke="#1c1c1c" stroke-width="0.15">14</text>
<line x1="296.40" y1="298.42" x2="299.90" y2="298.42" stroke="#111" stroke-width="0.9" />
<text x="293.60" y="301.12" font-size="7.5" text-anchor="end" font-weight="normal" fill="#1c1c1c" stroke="#1c1c1c" stroke-width="0.15">16</text>
<line x1="296.40" y1="289.30" x2="299.90" y2="289.30" stroke="#111" stroke-width="0.9" />
<text x="293.60" y="292.00" font-size="7.5" text-anchor="end" font-weight="normal" fill="#1c1c1c" stroke="#1c1c1c" stroke-width="0.15">18</text>
<line x1="299.45" y1="371.40" x2="374.60" y2="371.40" stroke="#111" stroke-width="1.0" />
<line x1="313.90" y1="371.40" x2="313.90" y2="374.40" stroke="#111" stroke-width="0.9" />
<text transform="translate(316.90,381.40) rotate(-45)" font-size="7.4" text-anchor="end" fill="#1c1c1c" stroke="#1c1c1c" stroke-width="0.18">K3WT</text>
<circle cx="315.89" cy="307.54" r="1.15" fill="#8a8a8a"/>
<circle cx="316.38" cy="303.51" r="1.15" fill="#8a8a8a"/>
<circle cx="315.92" cy="299.85" r="1.15" fill="#8a8a8a"/>
<circle cx="316.21" cy="297.79" r="1.15" fill="#8a8a8a"/>
<circle cx="316.06" cy="292.95" r="1.15" fill="#8a8a8a"/>
<line x1="308.20" y1="301.62" x2="318.20" y2="301.62" stroke="#111" stroke-width="1.0" />
<line x1="312.70" y1="297.51" x2="312.70" y2="305.72" stroke="#111" stroke-width="0.9" />
<line x1="311.70" y1="297.51" x2="313.70" y2="297.51" stroke="#111" stroke-width="0.8" />
<line x1="311.70" y1="305.72" x2="313.70" y2="305.72" stroke="#111" stroke-width="0.8" />
<circle cx="312.70" cy="301.62" r="1.6" fill="#111"/>
<line x1="329.30" y1="371.40" x2="329.30" y2="374.40" stroke="#111" stroke-width="0.9" />
<text transform="translate(332.30,381.40) rotate(-45)" font-size="7.4" text-anchor="end" fill="#1c1c1c" stroke="#1c1c1c" stroke-width="0.18" textLength="56.0" lengthAdjust="spacingAndGlyphs">K3KO/EpoR<tspan font-size="6.8">-cre</tspan></text>
<circle cx="331.58" cy="333.09" r="1.15" fill="#2d68b0"/>
<circle cx="331.64" cy="331.09" r="1.15" fill="#2d68b0"/>
<circle cx="331.21" cy="327.26" r="1.15" fill="#2d68b0"/>
<circle cx="331.50" cy="325.04" r="1.15" fill="#2d68b0"/>
<circle cx="331.45" cy="321.75" r="1.15" fill="#2d68b0"/>
<circle cx="331.50" cy="319.30" r="1.15" fill="#2d68b0"/>
<circle cx="331.41" cy="317.12" r="1.15" fill="#2d68b0"/>
<line x1="323.60" y1="324.88" x2="333.60" y2="324.88" stroke="#111" stroke-width="1.0" />
<line x1="328.10" y1="319.86" x2="328.10" y2="329.89" stroke="#111" stroke-width="0.9" />
<line x1="327.10" y1="319.86" x2="329.10" y2="319.86" stroke="#111" stroke-width="0.8" />
<line x1="327.10" y1="329.89" x2="329.10" y2="329.89" stroke="#111" stroke-width="0.8" />
<circle cx="328.10" cy="324.88" r="1.6" fill="#111"/>
<line x1="345.40" y1="371.40" x2="345.40" y2="374.40" stroke="#111" stroke-width="0.9" />
<text transform="translate(348.40,381.40) rotate(-45)" font-size="7.4" text-anchor="end" fill="#1c1c1c" stroke="#1c1c1c" stroke-width="0.18" textLength="52.3" lengthAdjust="spacingAndGlyphs">K3KO/Lyz2<tspan font-size="6.8">-cre</tspan></text>
<circle cx="347.71" cy="339.47" r="1.15" fill="#b03c9c"/>
<circle cx="347.43" cy="336.09" r="1.15" fill="#b03c9c"/>
<circle cx="347.57" cy="334.29" r="1.15" fill="#b03c9c"/>
<circle cx="347.79" cy="331.14" r="1.15" fill="#b03c9c"/>
<circle cx="347.40" cy="328.45" r="1.15" fill="#b03c9c"/>
<circle cx="347.62" cy="325.84" r="1.15" fill="#b03c9c"/>
<circle cx="347.65" cy="323.18" r="1.15" fill="#b03c9c"/>
<circle cx="347.38" cy="320.23" r="1.15" fill="#b03c9c"/>
<circle cx="347.34" cy="316.67" r="1.15" fill="#b03c9c"/>
<line x1="339.70" y1="329.89" x2="349.70" y2="329.89" stroke="#111" stroke-width="1.0" />
<line x1="344.20" y1="320.77" x2="344.20" y2="339.02" stroke="#111" stroke-width="0.9" />
<line x1="343.20" y1="320.77" x2="345.20" y2="320.77" stroke="#111" stroke-width="0.8" />
<line x1="343.20" y1="339.02" x2="345.20" y2="339.02" stroke="#111" stroke-width="0.8" />
<circle cx="344.20" cy="329.89" r="1.6" fill="#111"/>
<line x1="360.80" y1="371.40" x2="360.80" y2="374.40" stroke="#111" stroke-width="0.9" />
<text transform="translate(363.80,381.40) rotate(-45)" font-size="7.4" text-anchor="end" fill="#1c1c1c" stroke="#1c1c1c" stroke-width="0.18">K3KI</text>
<circle cx="363.18" cy="339.47" r="1.15" fill="#2a9a4c"/>
<circle cx="363.07" cy="336.52" r="1.15" fill="#2a9a4c"/>
<circle cx="362.86" cy="335.18" r="1.15" fill="#2a9a4c"/>
<circle cx="362.97" cy="332.53" r="1.15" fill="#2a9a4c"/>
<circle cx="363.13" cy="330.27" r="1.15" fill="#2a9a4c"/>
<circle cx="362.86" cy="327.52" r="1.15" fill="#2a9a4c"/>
<circle cx="362.86" cy="325.89" r="1.15" fill="#2a9a4c"/>
<circle cx="363.03" cy="323.12" r="1.15" fill="#2a9a4c"/>
<circle cx="363.19" cy="321.23" r="1.15" fill="#2a9a4c"/>
<line x1="355.10" y1="330.81" x2="365.10" y2="330.81" stroke="#111" stroke-width="1.0" />
<line x1="359.60" y1="325.33" x2="359.60" y2="336.28" stroke="#111" stroke-width="0.9" />
<line x1="358.60" y1="325.33" x2="360.60" y2="325.33" stroke="#111" stroke-width="0.8" />
<line x1="358.60" y1="336.28" x2="360.60" y2="336.28" stroke="#111" stroke-width="0.8" />
<circle cx="359.60" cy="330.81" r="1.6" fill="#111"/>
<path d="M329.10,308.30L329.10,304.70M327.54,307.40L330.66,305.60M327.54,305.60L330.66,307.40" stroke="#151515" stroke-width="0.9" stroke-linecap="round"/>
<circle cx="329.10" cy="306.50" r="1.0" fill="#151515"/>
<path d="M344.30,308.50L344.30,304.90M342.74,307.60L345.86,305.80M342.74,305.80L345.86,307.60" stroke="#151515" stroke-width="0.9" stroke-linecap="round"/>
<circle cx="344.30" cy="306.70" r="1.0" fill="#151515"/>
<path d="M360.40,314.10L360.40,310.50M358.84,313.20L361.96,311.40M358.84,311.40L361.96,313.20" stroke="#151515" stroke-width="0.9" stroke-linecap="round"/>
<circle cx="360.40" cy="312.30" r="1.0" fill="#151515"/>
<text transform="translate(277.80,329.40) rotate(-90)" font-size="8.4" text-anchor="middle" fill="#1c1c1c" textLength="26.3" lengthAdjust="spacingAndGlyphs" stroke="#1c1c1c" stroke-width="0.28">Hb (g/dl)</text>
<line x1="425.60" y1="286.20" x2="425.60" y2="372.00" stroke="#111" stroke-width="1.0" />
<line x1="422.10" y1="371.50" x2="425.60" y2="371.50" stroke="#111" stroke-width="0.9" />
<text x="419.30" y="374.20" font-size="7.5" text-anchor="end" font-weight="normal" fill="#1c1c1c" stroke="#1c1c1c" stroke-width="0.15">0</text>
<line x1="422.10" y1="359.74" x2="425.60" y2="359.74" stroke="#111" stroke-width="0.9" />
<text x="419.30" y="362.44" font-size="7.5" text-anchor="end" font-weight="normal" fill="#1c1c1c" stroke="#1c1c1c" stroke-width="0.15">5</text>
<line x1="422.10" y1="347.99" x2="425.60" y2="347.99" stroke="#111" stroke-width="0.9" />
<text x="419.30" y="350.69" font-size="7.5" text-anchor="end" font-weight="normal" fill="#1c1c1c" stroke="#1c1c1c" stroke-width="0.15">10</text>
<line x1="422.10" y1="336.23" x2="425.60" y2="336.23" stroke="#111" stroke-width="0.9" />
<text x="419.30" y="338.93" font-size="7.5" text-anchor="end" font-weight="normal" fill="#1c1c1c" stroke="#1c1c1c" stroke-width="0.15">15</text>
<line x1="422.10" y1="324.47" x2="425.60" y2="324.47" stroke="#111" stroke-width="0.9" />
<text x="419.30" y="327.17" font-size="7.5" text-anchor="end" font-weight="normal" fill="#1c1c1c" stroke="#1c1c1c" stroke-width="0.15">20</text>
<line x1="422.10" y1="312.71" x2="425.60" y2="312.71" stroke="#111" stroke-width="0.9" />
<text x="419.30" y="315.41" font-size="7.5" text-anchor="end" font-weight="normal" fill="#1c1c1c" stroke="#1c1c1c" stroke-width="0.15">25</text>
<line x1="422.10" y1="300.96" x2="425.60" y2="300.96" stroke="#111" stroke-width="0.9" />
<text x="419.30" y="303.66" font-size="7.5" text-anchor="end" font-weight="normal" fill="#1c1c1c" stroke="#1c1c1c" stroke-width="0.15">30</text>
<line x1="422.10" y1="289.20" x2="425.60" y2="289.20" stroke="#111" stroke-width="0.9" />
<text x="419.30" y="291.90" font-size="7.5" text-anchor="end" font-weight="normal" fill="#1c1c1c" stroke="#1c1c1c" stroke-width="0.15">35</text>
<line x1="425.15" y1="371.50" x2="500.00" y2="371.50" stroke="#111" stroke-width="1.0" />
<line x1="439.70" y1="371.50" x2="439.70" y2="374.50" stroke="#111" stroke-width="0.9" />
<text transform="translate(442.70,381.50) rotate(-45)" font-size="7.4" text-anchor="end" fill="#1c1c1c" stroke="#1c1c1c" stroke-width="0.18">K3WT</text>
<circle cx="441.77" cy="359.74" r="1.15" fill="#8a8a8a"/>
<circle cx="441.96" cy="358.62" r="1.15" fill="#8a8a8a"/>
<circle cx="441.63" cy="356.85" r="1.15" fill="#8a8a8a"/>
<circle cx="441.60" cy="355.15" r="1.15" fill="#8a8a8a"/>
<circle cx="441.83" cy="353.86" r="1.15" fill="#8a8a8a"/>
<circle cx="441.74" cy="352.69" r="1.15" fill="#8a8a8a"/>
<line x1="434.00" y1="355.75" x2="444.00" y2="355.75" stroke="#111" stroke-width="1.0" />
<line x1="438.50" y1="353.39" x2="438.50" y2="358.10" stroke="#111" stroke-width="0.9" />
<line x1="437.50" y1="353.39" x2="439.50" y2="353.39" stroke="#111" stroke-width="0.8" />
<line x1="437.50" y1="358.10" x2="439.50" y2="358.10" stroke="#111" stroke-width="0.8" />
<circle cx="438.50" cy="355.75" r="1.6" fill="#111"/>
<line x1="455.20" y1="371.50" x2="455.20" y2="374.50" stroke="#111" stroke-width="0.9" />
<text transform="translate(458.20,381.50) rotate(-45)" font-size="7.4" text-anchor="end" fill="#1c1c1c" stroke="#1c1c1c" stroke-width="0.18" textLength="56.0" lengthAdjust="spacingAndGlyphs">K3KO/EpoR<tspan font-size="6.8">-cre</tspan></text>
<circle cx="457.47" cy="359.27" r="1.15" fill="#2d68b0"/>
<circle cx="457.15" cy="357.80" r="1.15" fill="#2d68b0"/>
<circle cx="457.35" cy="356.49" r="1.15" fill="#2d68b0"/>
<circle cx="457.40" cy="355.39" r="1.15" fill="#2d68b0"/>
<circle cx="457.22" cy="354.13" r="1.15" fill="#2d68b0"/>
<circle cx="457.39" cy="352.49" r="1.15" fill="#2d68b0"/>
<circle cx="457.58" cy="351.50" r="1.15" fill="#2d68b0"/>
<circle cx="457.19" cy="350.34" r="1.15" fill="#2d68b0"/>
<line x1="449.50" y1="354.57" x2="459.50" y2="354.57" stroke="#111" stroke-width="1.0" />
<line x1="454.00" y1="352.22" x2="454.00" y2="356.92" stroke="#111" stroke-width="0.9" />
<line x1="453.00" y1="352.22" x2="455.00" y2="352.22" stroke="#111" stroke-width="0.8" />
<line x1="453.00" y1="356.92" x2="455.00" y2="356.92" stroke="#111" stroke-width="0.8" />
<circle cx="454.00" cy="354.57" r="1.6" fill="#111"/>
<line x1="471.00" y1="371.50" x2="471.00" y2="374.50" stroke="#111" stroke-width="0.9" />
<text transform="translate(474.00,381.50) rotate(-45)" font-size="7.4" text-anchor="end" fill="#1c1c1c" stroke="#1c1c1c" stroke-width="0.18" textLength="52.3" lengthAdjust="spacingAndGlyphs">K3KO/Lyz2<tspan font-size="6.8">-cre</tspan></text>
<circle cx="473.27" cy="347.99" r="1.15" fill="#b03c9c"/>
<circle cx="473.11" cy="345.76" r="1.15" fill="#b03c9c"/>
<circle cx="473.03" cy="343.15" r="1.15" fill="#b03c9c"/>
<circle cx="473.31" cy="341.72" r="1.15" fill="#b03c9c"/>
<circle cx="472.97" cy="339.89" r="1.15" fill="#b03c9c"/>
<circle cx="473.20" cy="337.77" r="1.15" fill="#b03c9c"/>
<circle cx="472.97" cy="334.14" r="1.15" fill="#b03c9c"/>
<circle cx="472.98" cy="332.70" r="1.15" fill="#b03c9c"/>
<line x1="465.30" y1="339.76" x2="475.30" y2="339.76" stroke="#111" stroke-width="1.0" />
<line x1="469.80" y1="335.05" x2="469.80" y2="344.46" stroke="#111" stroke-width="0.9" />
<line x1="468.80" y1="335.05" x2="470.80" y2="335.05" stroke="#111" stroke-width="0.8" />
<line x1="468.80" y1="344.46" x2="470.80" y2="344.46" stroke="#111" stroke-width="0.8" />
<circle cx="469.80" cy="339.76" r="1.6" fill="#111"/>
<line x1="486.50" y1="371.50" x2="486.50" y2="374.50" stroke="#111" stroke-width="0.9" />
<text transform="translate(489.50,381.50) rotate(-45)" font-size="7.4" text-anchor="end" fill="#1c1c1c" stroke="#1c1c1c" stroke-width="0.18">K3KI</text>
<circle cx="488.82" cy="298.61" r="1.15" fill="#2a9a4c"/>
<circle cx="488.88" cy="308.01" r="1.15" fill="#2a9a4c"/>
<circle cx="488.66" cy="310.83" r="1.15" fill="#2a9a4c"/>
<circle cx="488.97" cy="313.89" r="1.15" fill="#2a9a4c"/>
<circle cx="488.49" cy="316.71" r="1.15" fill="#2a9a4c"/>
<circle cx="489.00" cy="319.77" r="1.15" fill="#2a9a4c"/>
<circle cx="488.88" cy="322.59" r="1.15" fill="#2a9a4c"/>
<circle cx="488.91" cy="325.65" r="1.15" fill="#2a9a4c"/>
<circle cx="488.48" cy="328.00" r="1.15" fill="#2a9a4c"/>
<line x1="480.80" y1="316.71" x2="490.80" y2="316.71" stroke="#111" stroke-width="1.0" />
<line x1="485.30" y1="306.84" x2="485.30" y2="326.59" stroke="#111" stroke-width="0.9" />
<line x1="484.30" y1="306.84" x2="486.30" y2="306.84" stroke="#111" stroke-width="0.8" />
<line x1="484.30" y1="326.59" x2="486.30" y2="326.59" stroke="#111" stroke-width="0.8" />
<circle cx="485.30" cy="316.71" r="1.6" fill="#111"/>
<path d="M469.50,325.60L469.50,322.00M467.94,324.70L471.06,322.90M467.94,322.90L471.06,324.70" stroke="#151515" stroke-width="0.9" stroke-linecap="round"/>
<circle cx="469.50" cy="323.80" r="1.0" fill="#151515"/>
<path d="M485.00,291.00L485.00,287.40M483.44,290.10L486.56,288.30M483.44,288.30L486.56,290.10" stroke="#151515" stroke-width="0.9" stroke-linecap="round"/>
<circle cx="485.00" cy="289.20" r="1.0" fill="#151515"/>
<text transform="translate(404.00,329.20) rotate(-90)" font-size="8.4" text-anchor="middle" fill="#1c1c1c" textLength="46.5" lengthAdjust="spacingAndGlyphs" stroke="#1c1c1c" stroke-width="0.28">WBC (× 10<tspan font-size="6.2" dy="-2.7">3</tspan><tspan dy="2.7">/μl)</tspan></text>
<line x1="440.00" y1="345.50" x2="456.00" y2="345.50" stroke="#222" stroke-width="0.7" />
<text x="448.00" y="343.10" font-size="7.8" text-anchor="middle" font-weight="normal" fill="#222"  stroke="#222" stroke-width="0.18">ns</text>
<line x1="47.50" y1="453.50" x2="47.50" y2="545.90" stroke="#111" stroke-width="1.0" />
<line x1="44.00" y1="545.40" x2="47.50" y2="545.40" stroke="#111" stroke-width="0.9" />
<text x="41.20" y="548.10" font-size="7.5" text-anchor="end" font-weight="normal" fill="#1c1c1c" stroke="#1c1c1c" stroke-width="0.15">0</text>
<line x1="44.00" y1="532.70" x2="47.50" y2="532.70" stroke="#111" stroke-width="0.9" />
<text x="41.20" y="535.40" font-size="7.5" text-anchor="end" font-weight="normal" fill="#1c1c1c" stroke="#1c1c1c" stroke-width="0.15">2</text>
<line x1="44.00" y1="520.00" x2="47.50" y2="520.00" stroke="#111" stroke-width="0.9" />
<text x="41.20" y="522.70" font-size="7.5" text-anchor="end" font-weight="normal" fill="#1c1c1c" stroke="#1c1c1c" stroke-width="0.15">4</text>
<line x1="44.00" y1="507.30" x2="47.50" y2="507.30" stroke="#111" stroke-width="0.9" />
<text x="41.20" y="510.00" font-size="7.5" text-anchor="end" font-weight="normal" fill="#1c1c1c" stroke="#1c1c1c" stroke-width="0.15">6</text>
<line x1="44.00" y1="494.60" x2="47.50" y2="494.60" stroke="#111" stroke-width="0.9" />
<text x="41.20" y="497.30" font-size="7.5" text-anchor="end" font-weight="normal" fill="#1c1c1c" stroke="#1c1c1c" stroke-width="0.15">8</text>
<line x1="44.00" y1="481.90" x2="47.50" y2="481.90" stroke="#111" stroke-width="0.9" />
<text x="41.20" y="484.60" font-size="7.5" text-anchor="end" font-weight="normal" fill="#1c1c1c" stroke="#1c1c1c" stroke-width="0.15">10</text>
<line x1="44.00" y1="469.20" x2="47.50" y2="469.20" stroke="#111" stroke-width="0.9" />
<text x="41.20" y="471.90" font-size="7.5" text-anchor="end" font-weight="normal" fill="#1c1c1c" stroke="#1c1c1c" stroke-width="0.15">12</text>
<line x1="44.00" y1="456.50" x2="47.50" y2="456.50" stroke="#111" stroke-width="0.9" />
<text x="41.20" y="459.20" font-size="7.5" text-anchor="end" font-weight="normal" fill="#1c1c1c" stroke="#1c1c1c" stroke-width="0.15">14</text>
<line x1="47.05" y1="545.40" x2="137.00" y2="545.40" stroke="#111" stroke-width="0.9" />
<line x1="49.60" y1="545.40" x2="49.60" y2="548.40" stroke="#111" stroke-width="0.8" />
<text transform="translate(53.40,557.00) rotate(-45)" font-size="7.0" text-anchor="end" fill="#1c1c1c" stroke="#1c1c1c" stroke-width="0.18">0</text>
<line x1="60.66" y1="545.40" x2="60.66" y2="548.40" stroke="#111" stroke-width="0.8" />
<text transform="translate(64.46,557.00) rotate(-45)" font-size="7.0" text-anchor="end" fill="#1c1c1c" stroke="#1c1c1c" stroke-width="0.18">2</text>
<line x1="71.72" y1="545.40" x2="71.72" y2="548.40" stroke="#111" stroke-width="0.8" />
<text transform="translate(75.52,557.00) rotate(-45)" font-size="7.0" text-anchor="end" fill="#1c1c1c" stroke="#1c1c1c" stroke-width="0.18">4</text>
<line x1="82.78" y1="545.40" x2="82.78" y2="548.40" stroke="#111" stroke-width="0.8" />
<text transform="translate(86.58,557.00) rotate(-45)" font-size="7.0" text-anchor="end" fill="#1c1c1c" stroke="#1c1c1c" stroke-width="0.18">6</text>
<line x1="93.84" y1="545.40" x2="93.84" y2="548.40" stroke="#111" stroke-width="0.8" />
<text transform="translate(97.64,557.00) rotate(-45)" font-size="7.0" text-anchor="end" fill="#1c1c1c" stroke="#1c1c1c" stroke-width="0.18">8</text>
<line x1="104.90" y1="545.40" x2="104.90" y2="548.40" stroke="#111" stroke-width="0.8" />
<text transform="translate(108.70,557.00) rotate(-45)" font-size="7.0" text-anchor="end" fill="#1c1c1c" stroke="#1c1c1c" stroke-width="0.18">10</text>
<line x1="115.96" y1="545.40" x2="115.96" y2="548.40" stroke="#111" stroke-width="0.8" />
<text transform="translate(119.76,557.00) rotate(-45)" font-size="7.0" text-anchor="end" fill="#1c1c1c" stroke="#1c1c1c" stroke-width="0.18">12</text>
<line x1="127.02" y1="545.40" x2="127.02" y2="548.40" stroke="#111" stroke-width="0.8" />
<text transform="translate(130.82,557.00) rotate(-45)" font-size="7.0" text-anchor="end" fill="#1c1c1c" stroke="#1c1c1c" stroke-width="0.18">14</text>
<polyline points="49.60,474.28 60.66,494.60 71.72,506.03 93.84,487.62 127.02,476.19" fill="none" stroke="#7c7c7c" stroke-width="1.3"/>
<line x1="49.60" y1="470.47" x2="49.60" y2="478.09" stroke="#7c7c7c" stroke-width="0.8" />
<line x1="48.30" y1="470.47" x2="50.90" y2="470.47" stroke="#7c7c7c" stroke-width="0.7" />
<line x1="48.30" y1="478.09" x2="50.90" y2="478.09" stroke="#7c7c7c" stroke-width="0.7" />
<circle cx="49.60" cy="474.28" r="1.1" fill="#7c7c7c"/>
<line x1="60.66" y1="492.69" x2="60.66" y2="496.50" stroke="#7c7c7c" stroke-width="0.8" />
<line x1="59.36" y1="492.69" x2="61.96" y2="492.69" stroke="#7c7c7c" stroke-width="0.7" />
<line x1="59.36" y1="496.50" x2="61.96" y2="496.50" stroke="#7c7c7c" stroke-width="0.7" />
<circle cx="60.66" cy="494.60" r="1.1" fill="#7c7c7c"/>
<line x1="71.72" y1="504.76" x2="71.72" y2="507.30" stroke="#7c7c7c" stroke-width="0.8" />
<line x1="70.42" y1="504.76" x2="73.02" y2="504.76" stroke="#7c7c7c" stroke-width="0.7" />
<line x1="70.42" y1="507.30" x2="73.02" y2="507.30" stroke="#7c7c7c" stroke-width="0.7" />
<circle cx="71.72" cy="506.03" r="1.1" fill="#7c7c7c"/>
<line x1="93.84" y1="485.07" x2="93.84" y2="490.16" stroke="#7c7c7c" stroke-width="0.8" />
<line x1="92.54" y1="485.07" x2="95.14" y2="485.07" stroke="#7c7c7c" stroke-width="0.7" />
<line x1="92.54" y1="490.16" x2="95.14" y2="490.16" stroke="#7c7c7c" stroke-width="0.7" />
<circle cx="93.84" cy="487.62" r="1.1" fill="#7c7c7c"/>
<line x1="127.02" y1="473.64" x2="127.02" y2="478.73" stroke="#7c7c7c" stroke-width="0.8" />
<line x1="125.72" y1="473.64" x2="128.32" y2="473.64" stroke="#7c7c7c" stroke-width="0.7" />
<line x1="125.72" y1="478.73" x2="128.32" y2="478.73" stroke="#7c7c7c" stroke-width="0.7" />
<circle cx="127.02" cy="476.19" r="1.1" fill="#7c7c7c"/>
<polyline points="49.60,501.58 60.66,519.05 71.72,523.49 93.84,520.00 127.02,510.47" fill="none" stroke="#22a050" stroke-width="1.3"/>
<line x1="49.60" y1="498.41" x2="49.60" y2="504.76" stroke="#22a050" stroke-width="0.8" />
<line x1="48.30" y1="498.41" x2="50.90" y2="498.41" stroke="#22a050" stroke-width="0.7" />
<line x1="48.30" y1="504.76" x2="50.90" y2="504.76" stroke="#22a050" stroke-width="0.7" />
<circle cx="49.60" cy="501.58" r="1.1" fill="#22a050"/>
<line x1="60.66" y1="515.24" x2="60.66" y2="522.86" stroke="#22a050" stroke-width="0.8" />
<line x1="59.36" y1="515.24" x2="61.96" y2="515.24" stroke="#22a050" stroke-width="0.7" />
<line x1="59.36" y1="522.86" x2="61.96" y2="522.86" stroke="#22a050" stroke-width="0.7" />
<circle cx="60.66" cy="519.05" r="1.1" fill="#22a050"/>
<line x1="71.72" y1="521.59" x2="71.72" y2="525.40" stroke="#22a050" stroke-width="0.8" />
<line x1="70.42" y1="521.59" x2="73.02" y2="521.59" stroke="#22a050" stroke-width="0.7" />
<line x1="70.42" y1="525.40" x2="73.02" y2="525.40" stroke="#22a050" stroke-width="0.7" />
<circle cx="71.72" cy="523.49" r="1.1" fill="#22a050"/>
<line x1="93.84" y1="514.92" x2="93.84" y2="525.08" stroke="#22a050" stroke-width="0.8" />
<line x1="92.54" y1="514.92" x2="95.14" y2="514.92" stroke="#22a050" stroke-width="0.7" />
<line x1="92.54" y1="525.08" x2="95.14" y2="525.08" stroke="#22a050" stroke-width="0.7" />
<circle cx="93.84" cy="520.00" r="1.1" fill="#22a050"/>
<line x1="127.02" y1="507.93" x2="127.02" y2="513.01" stroke="#22a050" stroke-width="0.8" />
<line x1="125.72" y1="507.93" x2="128.32" y2="507.93" stroke="#22a050" stroke-width="0.7" />
<line x1="125.72" y1="513.01" x2="128.32" y2="513.01" stroke="#22a050" stroke-width="0.7" />
<circle cx="127.02" cy="510.47" r="1.1" fill="#22a050"/>
<polyline points="49.60,495.87 60.66,512.38 71.72,520.63 93.84,513.97 127.02,507.30" fill="none" stroke="#94309c" stroke-width="1.3"/>
<line x1="49.60" y1="493.33" x2="49.60" y2="498.41" stroke="#94309c" stroke-width="0.8" />
<line x1="48.30" y1="493.33" x2="50.90" y2="493.33" stroke="#94309c" stroke-width="0.7" />
<line x1="48.30" y1="498.41" x2="50.90" y2="498.41" stroke="#94309c" stroke-width="0.7" />
<circle cx="49.60" cy="495.87" r="1.1" fill="#94309c"/>
<line x1="60.66" y1="509.20" x2="60.66" y2="515.55" stroke="#94309c" stroke-width="0.8" />
<line x1="59.36" y1="509.20" x2="61.96" y2="509.20" stroke="#94309c" stroke-width="0.7" />
<line x1="59.36" y1="515.55" x2="61.96" y2="515.55" stroke="#94309c" stroke-width="0.7" />
<circle cx="60.66" cy="512.38" r="1.1" fill="#94309c"/>
<line x1="71.72" y1="518.73" x2="71.72" y2="522.54" stroke="#94309c" stroke-width="0.8" />
<line x1="70.42" y1="518.73" x2="73.02" y2="518.73" stroke="#94309c" stroke-width="0.7" />
<line x1="70.42" y1="522.54" x2="73.02" y2="522.54" stroke="#94309c" stroke-width="0.7" />
<circle cx="71.72" cy="520.63" r="1.1" fill="#94309c"/>
<line x1="93.84" y1="510.79" x2="93.84" y2="517.14" stroke="#94309c" stroke-width="0.8" />
<line x1="92.54" y1="510.79" x2="95.14" y2="510.79" stroke="#94309c" stroke-width="0.7" />
<line x1="92.54" y1="517.14" x2="95.14" y2="517.14" stroke="#94309c" stroke-width="0.7" />
<circle cx="93.84" cy="513.97" r="1.1" fill="#94309c"/>
<line x1="127.02" y1="504.76" x2="127.02" y2="509.84" stroke="#94309c" stroke-width="0.8" />
<line x1="125.72" y1="504.76" x2="128.32" y2="504.76" stroke="#94309c" stroke-width="0.7" />
<line x1="125.72" y1="509.84" x2="128.32" y2="509.84" stroke="#94309c" stroke-width="0.7" />
<circle cx="127.02" cy="507.30" r="1.1" fill="#94309c"/>
<polyline points="49.60,492.69 60.66,506.66 71.72,520.00 93.84,511.43 127.02,504.44" fill="none" stroke="#2a62ae" stroke-width="1.3"/>
<line x1="49.60" y1="489.52" x2="49.60" y2="495.87" stroke="#2a62ae" stroke-width="0.8" />
<line x1="48.30" y1="489.52" x2="50.90" y2="489.52" stroke="#2a62ae" stroke-width="0.7" />
<line x1="48.30" y1="495.87" x2="50.90" y2="495.87" stroke="#2a62ae" stroke-width="0.7" />
<circle cx="49.60" cy="492.69" r="1.1" fill="#2a62ae"/>
<line x1="60.66" y1="502.85" x2="60.66" y2="510.47" stroke="#2a62ae" stroke-width="0.8" />
<line x1="59.36" y1="502.85" x2="61.96" y2="502.85" stroke="#2a62ae" stroke-width="0.7" />
<line x1="59.36" y1="510.47" x2="61.96" y2="510.47" stroke="#2a62ae" stroke-width="0.7" />
<circle cx="60.66" cy="506.66" r="1.1" fill="#2a62ae"/>
<line x1="71.72" y1="518.10" x2="71.72" y2="521.90" stroke="#2a62ae" stroke-width="0.8" />
<line x1="70.42" y1="518.10" x2="73.02" y2="518.10" stroke="#2a62ae" stroke-width="0.7" />
<line x1="70.42" y1="521.90" x2="73.02" y2="521.90" stroke="#2a62ae" stroke-width="0.7" />
<circle cx="71.72" cy="520.00" r="1.1" fill="#2a62ae"/>
<line x1="93.84" y1="507.62" x2="93.84" y2="515.24" stroke="#2a62ae" stroke-width="0.8" />
<line x1="92.54" y1="507.62" x2="95.14" y2="507.62" stroke="#2a62ae" stroke-width="0.7" />
<line x1="92.54" y1="515.24" x2="95.14" y2="515.24" stroke="#2a62ae" stroke-width="0.7" />
<circle cx="93.84" cy="511.43" r="1.1" fill="#2a62ae"/>
<line x1="127.02" y1="501.27" x2="127.02" y2="507.62" stroke="#2a62ae" stroke-width="0.8" />
<line x1="125.72" y1="501.27" x2="128.32" y2="501.27" stroke="#2a62ae" stroke-width="0.7" />
<line x1="125.72" y1="507.62" x2="128.32" y2="507.62" stroke="#2a62ae" stroke-width="0.7" />
<circle cx="127.02" cy="504.44" r="1.1" fill="#2a62ae"/>
<path d="M49.60,488.78L49.60,485.18M48.04,487.88L51.16,486.08M48.04,486.08L51.16,487.88" stroke="#151515" stroke-width="0.9" stroke-linecap="round"/>
<circle cx="49.60" cy="486.98" r="1.0" fill="#151515"/>
<path d="M60.66,503.07L60.66,499.47M59.10,502.17L62.22,500.37M59.10,500.37L62.22,502.17" stroke="#151515" stroke-width="0.9" stroke-linecap="round"/>
<circle cx="60.66" cy="501.27" r="1.0" fill="#151515"/>
<path d="M71.72,515.45L71.72,511.85M70.16,514.55L73.28,512.75M70.16,512.75L73.28,514.55" stroke="#151515" stroke-width="0.9" stroke-linecap="round"/>
<circle cx="71.72" cy="513.65" r="1.0" fill="#151515"/>
<path d="M93.84,504.65L93.84,501.05M92.28,503.75L95.40,501.95M92.28,501.95L95.40,503.75" stroke="#151515" stroke-width="0.9" stroke-linecap="round"/>
<circle cx="93.84" cy="502.85" r="1.0" fill="#151515"/>
<path d="M127.02,498.31L127.02,494.70M125.46,497.40L128.58,495.61M125.46,495.61L128.58,497.40" stroke="#151515" stroke-width="0.9" stroke-linecap="round"/>
<circle cx="127.02" cy="496.50" r="1.0" fill="#151515"/>
<text transform="translate(24.80,499.80) rotate(-90)" font-size="8.4" text-anchor="middle" fill="#1c1c1c" textLength="43.9" lengthAdjust="spacingAndGlyphs" stroke="#1c1c1c" stroke-width="0.28">RBC (× 10<tspan font-size="6.2" dy="-2.7">6</tspan><tspan dy="2.7">/μl)</tspan></text>
<line x1="174.50" y1="466.20" x2="174.50" y2="545.70" stroke="#111" stroke-width="1.0" />
<line x1="171.00" y1="545.20" x2="174.50" y2="545.20" stroke="#111" stroke-width="0.9" />
<text x="168.20" y="547.90" font-size="7.5" text-anchor="end" font-weight="normal" fill="#1c1c1c" stroke="#1c1c1c" stroke-width="0.15">0</text>
<line x1="171.00" y1="536.76" x2="174.50" y2="536.76" stroke="#111" stroke-width="0.9" />
<text x="168.20" y="539.46" font-size="7.5" text-anchor="end" font-weight="normal" fill="#1c1c1c" stroke="#1c1c1c" stroke-width="0.15">2</text>
<line x1="171.00" y1="528.31" x2="174.50" y2="528.31" stroke="#111" stroke-width="0.9" />
<text x="168.20" y="531.01" font-size="7.5" text-anchor="end" font-weight="normal" fill="#1c1c1c" stroke="#1c1c1c" stroke-width="0.15">4</text>
<line x1="171.00" y1="519.87" x2="174.50" y2="519.87" stroke="#111" stroke-width="0.9" />
<text x="168.20" y="522.57" font-size="7.5" text-anchor="end" font-weight="normal" fill="#1c1c1c" stroke="#1c1c1c" stroke-width="0.15">6</text>
<line x1="171.00" y1="511.42" x2="174.50" y2="511.42" stroke="#111" stroke-width="0.9" />
<text x="168.20" y="514.12" font-size="7.5" text-anchor="end" font-weight="normal" fill="#1c1c1c" stroke="#1c1c1c" stroke-width="0.15">8</text>
<line x1="171.00" y1="502.98" x2="174.50" y2="502.98" stroke="#111" stroke-width="0.9" />
<text x="168.20" y="505.68" font-size="7.5" text-anchor="end" font-weight="normal" fill="#1c1c1c" stroke="#1c1c1c" stroke-width="0.15">10</text>
<line x1="171.00" y1="494.53" x2="174.50" y2="494.53" stroke="#111" stroke-width="0.9" />
<text x="168.20" y="497.23" font-size="7.5" text-anchor="end" font-weight="normal" fill="#1c1c1c" stroke="#1c1c1c" stroke-width="0.15">12</text>
<line x1="171.00" y1="486.09" x2="174.50" y2="486.09" stroke="#111" stroke-width="0.9" />
<text x="168.20" y="488.79" font-size="7.5" text-anchor="end" font-weight="normal" fill="#1c1c1c" stroke="#1c1c1c" stroke-width="0.15">14</text>
<line x1="171.00" y1="477.64" x2="174.50" y2="477.64" stroke="#111" stroke-width="0.9" />
<text x="168.20" y="480.34" font-size="7.5" text-anchor="end" font-weight="normal" fill="#1c1c1c" stroke="#1c1c1c" stroke-width="0.15">16</text>
<line x1="171.00" y1="469.20" x2="174.50" y2="469.20" stroke="#111" stroke-width="0.9" />
<text x="168.20" y="471.90" font-size="7.5" text-anchor="end" font-weight="normal" fill="#1c1c1c" stroke="#1c1c1c" stroke-width="0.15">18</text>
<line x1="174.05" y1="545.20" x2="252.00" y2="545.20" stroke="#111" stroke-width="0.9" />
<line x1="176.60" y1="545.20" x2="176.60" y2="548.20" stroke="#111" stroke-width="0.8" />
<text transform="translate(180.40,556.80) rotate(-45)" font-size="7.0" text-anchor="end" fill="#1c1c1c" stroke="#1c1c1c" stroke-width="0.18">0</text>
<line x1="186.12" y1="545.20" x2="186.12" y2="548.20" stroke="#111" stroke-width="0.8" />
<text transform="translate(189.92,556.80) rotate(-45)" font-size="7.0" text-anchor="end" fill="#1c1c1c" stroke="#1c1c1c" stroke-width="0.18">2</text>
<line x1="195.64" y1="545.20" x2="195.64" y2="548.20" stroke="#111" stroke-width="0.8" />
<text transform="translate(199.44,556.80) rotate(-45)" font-size="7.0" text-anchor="end" fill="#1c1c1c" stroke="#1c1c1c" stroke-width="0.18">4</text>
<line x1="205.16" y1="545.20" x2="205.16" y2="548.20" stroke="#111" stroke-width="0.8" />
<text transform="translate(208.96,556.80) rotate(-45)" font-size="7.0" text-anchor="end" fill="#1c1c1c" stroke="#1c1c1c" stroke-width="0.18">6</text>
<line x1="214.68" y1="545.20" x2="214.68" y2="548.20" stroke="#111" stroke-width="0.8" />
<text transform="translate(218.48,556.80) rotate(-45)" font-size="7.0" text-anchor="end" fill="#1c1c1c" stroke="#1c1c1c" stroke-width="0.18">8</text>
<line x1="224.20" y1="545.20" x2="224.20" y2="548.20" stroke="#111" stroke-width="0.8" />
<text transform="translate(228.00,556.80) rotate(-45)" font-size="7.0" text-anchor="end" fill="#1c1c1c" stroke="#1c1c1c" stroke-width="0.18">10</text>
<line x1="233.72" y1="545.20" x2="233.72" y2="548.20" stroke="#111" stroke-width="0.8" />
<text transform="translate(237.52,556.80) rotate(-45)" font-size="7.0" text-anchor="end" fill="#1c1c1c" stroke="#1c1c1c" stroke-width="0.18">12</text>
<line x1="243.24" y1="545.20" x2="243.24" y2="548.20" stroke="#111" stroke-width="0.8" />
<text transform="translate(247.04,556.80) rotate(-45)" font-size="7.0" text-anchor="end" fill="#1c1c1c" stroke="#1c1c1c" stroke-width="0.18">14</text>
<polyline points="176.60,481.44 186.12,494.53 195.64,502.13 214.68,486.09 243.24,478.49" fill="none" stroke="#7c7c7c" stroke-width="1.3"/>
<line x1="176.60" y1="478.07" x2="176.60" y2="484.82" stroke="#7c7c7c" stroke-width="0.8" />
<line x1="175.30" y1="478.07" x2="177.90" y2="478.07" stroke="#7c7c7c" stroke-width="0.7" />
<line x1="175.30" y1="484.82" x2="177.90" y2="484.82" stroke="#7c7c7c" stroke-width="0.7" />
<circle cx="176.60" cy="481.44" r="1.1" fill="#7c7c7c"/>
<line x1="186.12" y1="488.20" x2="186.12" y2="500.87" stroke="#7c7c7c" stroke-width="0.8" />
<line x1="184.82" y1="488.20" x2="187.42" y2="488.20" stroke="#7c7c7c" stroke-width="0.7" />
<line x1="184.82" y1="500.87" x2="187.42" y2="500.87" stroke="#7c7c7c" stroke-width="0.7" />
<circle cx="186.12" cy="494.53" r="1.1" fill="#7c7c7c"/>
<line x1="195.64" y1="497.91" x2="195.64" y2="506.36" stroke="#7c7c7c" stroke-width="0.8" />
<line x1="194.34" y1="497.91" x2="196.94" y2="497.91" stroke="#7c7c7c" stroke-width="0.7" />
<line x1="194.34" y1="506.36" x2="196.94" y2="506.36" stroke="#7c7c7c" stroke-width="0.7" />
<circle cx="195.64" cy="502.13" r="1.1" fill="#7c7c7c"/>
<line x1="214.68" y1="483.56" x2="214.68" y2="488.62" stroke="#7c7c7c" stroke-width="0.8" />
<line x1="213.38" y1="483.56" x2="215.98" y2="483.56" stroke="#7c7c7c" stroke-width="0.7" />
<line x1="213.38" y1="488.62" x2="215.98" y2="488.62" stroke="#7c7c7c" stroke-width="0.7" />
<circle cx="214.68" cy="486.09" r="1.1" fill="#7c7c7c"/>
<line x1="243.24" y1="475.53" x2="243.24" y2="481.44" stroke="#7c7c7c" stroke-width="0.8" />
<line x1="241.94" y1="475.53" x2="244.54" y2="475.53" stroke="#7c7c7c" stroke-width="0.7" />
<line x1="241.94" y1="481.44" x2="244.54" y2="481.44" stroke="#7c7c7c" stroke-width="0.7" />
<circle cx="243.24" cy="478.49" r="1.1" fill="#7c7c7c"/>
<polyline points="176.60,508.47 186.12,520.71 195.64,521.56 214.68,518.60 243.24,513.11" fill="none" stroke="#22a050" stroke-width="1.3"/>
<line x1="176.60" y1="505.93" x2="176.60" y2="511.00" stroke="#22a050" stroke-width="0.8" />
<line x1="175.30" y1="505.93" x2="177.90" y2="505.93" stroke="#22a050" stroke-width="0.7" />
<line x1="175.30" y1="511.00" x2="177.90" y2="511.00" stroke="#22a050" stroke-width="0.7" />
<circle cx="176.60" cy="508.47" r="1.1" fill="#22a050"/>
<line x1="186.12" y1="518.18" x2="186.12" y2="523.24" stroke="#22a050" stroke-width="0.8" />
<line x1="184.82" y1="518.18" x2="187.42" y2="518.18" stroke="#22a050" stroke-width="0.7" />
<line x1="184.82" y1="523.24" x2="187.42" y2="523.24" stroke="#22a050" stroke-width="0.7" />
<circle cx="186.12" cy="520.71" r="1.1" fill="#22a050"/>
<line x1="195.64" y1="519.87" x2="195.64" y2="523.24" stroke="#22a050" stroke-width="0.8" />
<line x1="194.34" y1="519.87" x2="196.94" y2="519.87" stroke="#22a050" stroke-width="0.7" />
<line x1="194.34" y1="523.24" x2="196.94" y2="523.24" stroke="#22a050" stroke-width="0.7" />
<circle cx="195.64" cy="521.56" r="1.1" fill="#22a050"/>
<line x1="214.68" y1="516.49" x2="214.68" y2="520.71" stroke="#22a050" stroke-width="0.8" />
<line x1="213.38" y1="516.49" x2="215.98" y2="516.49" stroke="#22a050" stroke-width="0.7" />
<line x1="213.38" y1="520.71" x2="215.98" y2="520.71" stroke="#22a050" stroke-width="0.7" />
<circle cx="214.68" cy="518.60" r="1.1" fill="#22a050"/>
<line x1="243.24" y1="511.00" x2="243.24" y2="515.22" stroke="#22a050" stroke-width="0.8" />
<line x1="241.94" y1="511.00" x2="244.54" y2="511.00" stroke="#22a050" stroke-width="0.7" />
<line x1="241.94" y1="515.22" x2="244.54" y2="515.22" stroke="#22a050" stroke-width="0.7" />
<circle cx="243.24" cy="513.11" r="1.1" fill="#22a050"/>
<polyline points="176.60,504.67 186.12,514.38 195.64,517.76 214.68,515.22 243.24,510.16" fill="none" stroke="#94309c" stroke-width="1.3"/>
<line x1="176.60" y1="502.13" x2="176.60" y2="507.20" stroke="#94309c" stroke-width="0.8" />
<line x1="175.30" y1="502.13" x2="177.90" y2="502.13" stroke="#94309c" stroke-width="0.7" />
<line x1="175.30" y1="507.20" x2="177.90" y2="507.20" stroke="#94309c" stroke-width="0.7" />
<circle cx="176.60" cy="504.67" r="1.1" fill="#94309c"/>
<line x1="186.12" y1="512.27" x2="186.12" y2="516.49" stroke="#94309c" stroke-width="0.8" />
<line x1="184.82" y1="512.27" x2="187.42" y2="512.27" stroke="#94309c" stroke-width="0.7" />
<line x1="184.82" y1="516.49" x2="187.42" y2="516.49" stroke="#94309c" stroke-width="0.7" />
<circle cx="186.12" cy="514.38" r="1.1" fill="#94309c"/>
<line x1="195.64" y1="516.07" x2="195.64" y2="519.44" stroke="#94309c" stroke-width="0.8" />
<line x1="194.34" y1="516.07" x2="196.94" y2="516.07" stroke="#94309c" stroke-width="0.7" />
<line x1="194.34" y1="519.44" x2="196.94" y2="519.44" stroke="#94309c" stroke-width="0.7" />
<circle cx="195.64" cy="517.76" r="1.1" fill="#94309c"/>
<line x1="214.68" y1="513.11" x2="214.68" y2="517.33" stroke="#94309c" stroke-width="0.8" />
<line x1="213.38" y1="513.11" x2="215.98" y2="513.11" stroke="#94309c" stroke-width="0.7" />
<line x1="213.38" y1="517.33" x2="215.98" y2="517.33" stroke="#94309c" stroke-width="0.7" />
<circle cx="214.68" cy="515.22" r="1.1" fill="#94309c"/>
<line x1="243.24" y1="508.04" x2="243.24" y2="512.27" stroke="#94309c" stroke-width="0.8" />
<line x1="241.94" y1="508.04" x2="244.54" y2="508.04" stroke="#94309c" stroke-width="0.7" />
<line x1="241.94" y1="512.27" x2="244.54" y2="512.27" stroke="#94309c" stroke-width="0.7" />
<circle cx="243.24" cy="510.16" r="1.1" fill="#94309c"/>
<polyline points="176.60,502.98 186.12,507.62 195.64,515.22 214.68,509.31 243.24,507.62" fill="none" stroke="#2a62ae" stroke-width="1.3"/>
<line x1="176.60" y1="499.18" x2="176.60" y2="506.78" stroke="#2a62ae" stroke-width="0.8" />
<line x1="175.30" y1="499.18" x2="177.90" y2="499.18" stroke="#2a62ae" stroke-width="0.7" />
<line x1="175.30" y1="506.78" x2="177.90" y2="506.78" stroke="#2a62ae" stroke-width="0.7" />
<circle cx="176.60" cy="502.98" r="1.1" fill="#2a62ae"/>
<line x1="186.12" y1="504.24" x2="186.12" y2="511.00" stroke="#2a62ae" stroke-width="0.8" />
<line x1="184.82" y1="504.24" x2="187.42" y2="504.24" stroke="#2a62ae" stroke-width="0.7" />
<line x1="184.82" y1="511.00" x2="187.42" y2="511.00" stroke="#2a62ae" stroke-width="0.7" />
<circle cx="186.12" cy="507.62" r="1.1" fill="#2a62ae"/>
<line x1="195.64" y1="512.69" x2="195.64" y2="517.76" stroke="#2a62ae" stroke-width="0.8" />
<line x1="194.34" y1="512.69" x2="196.94" y2="512.69" stroke="#2a62ae" stroke-width="0.7" />
<line x1="194.34" y1="517.76" x2="196.94" y2="517.76" stroke="#2a62ae" stroke-width="0.7" />
<circle cx="195.64" cy="515.22" r="1.1" fill="#2a62ae"/>
<line x1="214.68" y1="505.93" x2="214.68" y2="512.69" stroke="#2a62ae" stroke-width="0.8" />
<line x1="213.38" y1="505.93" x2="215.98" y2="505.93" stroke="#2a62ae" stroke-width="0.7" />
<line x1="213.38" y1="512.69" x2="215.98" y2="512.69" stroke="#2a62ae" stroke-width="0.7" />
<circle cx="214.68" cy="509.31" r="1.1" fill="#2a62ae"/>
<line x1="243.24" y1="505.09" x2="243.24" y2="510.16" stroke="#2a62ae" stroke-width="0.8" />
<line x1="241.94" y1="505.09" x2="244.54" y2="505.09" stroke="#2a62ae" stroke-width="0.7" />
<line x1="241.94" y1="510.16" x2="244.54" y2="510.16" stroke="#2a62ae" stroke-width="0.7" />
<circle cx="243.24" cy="507.62" r="1.1" fill="#2a62ae"/>
<path d="M176.60,495.49L176.60,491.89M175.04,494.59L178.16,492.79M175.04,492.79L178.16,494.59" stroke="#151515" stroke-width="0.9" stroke-linecap="round"/>
<circle cx="176.60" cy="493.69" r="1.0" fill="#151515"/>
<path d="M185.32,508.16L185.32,504.56M183.76,507.26L186.88,505.46M183.76,505.46L186.88,507.26" stroke="#151515" stroke-width="0.9" stroke-linecap="round"/>
<circle cx="185.32" cy="506.36" r="1.0" fill="#151515"/>
<path d="M195.64,512.38L195.64,508.78M194.08,511.48L197.20,509.68M194.08,509.68L197.20,511.48" stroke="#151515" stroke-width="0.9" stroke-linecap="round"/>
<circle cx="195.64" cy="510.58" r="1.0" fill="#151515"/>
<path d="M214.68,503.93L214.68,500.33M213.12,503.03L216.24,501.23M213.12,501.23L216.24,503.03" stroke="#151515" stroke-width="0.9" stroke-linecap="round"/>
<circle cx="214.68" cy="502.13" r="1.0" fill="#151515"/>
<path d="M243.24,502.67L243.24,499.07M241.68,501.77L244.80,499.97M241.68,499.97L244.80,501.77" stroke="#151515" stroke-width="0.9" stroke-linecap="round"/>
<circle cx="243.24" cy="500.87" r="1.0" fill="#151515"/>
<text transform="translate(152.30,506.30) rotate(-90)" font-size="8.4" text-anchor="middle" fill="#1c1c1c" textLength="26.7" lengthAdjust="spacingAndGlyphs" stroke="#1c1c1c" stroke-width="0.28">Hb (g/dl)</text>
<line x1="299.90" y1="452.50" x2="299.90" y2="545.90" stroke="#111" stroke-width="1.0" />
<line x1="296.40" y1="545.40" x2="299.90" y2="545.40" stroke="#111" stroke-width="0.9" />
<text x="293.60" y="548.10" font-size="7.5" text-anchor="end" font-weight="normal" fill="#1c1c1c" stroke="#1c1c1c" stroke-width="0.15">4</text>
<line x1="296.40" y1="530.42" x2="299.90" y2="530.42" stroke="#111" stroke-width="0.9" />
<text x="293.60" y="533.12" font-size="7.5" text-anchor="end" font-weight="normal" fill="#1c1c1c" stroke="#1c1c1c" stroke-width="0.15">6</text>
<line x1="296.40" y1="515.43" x2="299.90" y2="515.43" stroke="#111" stroke-width="0.9" />
<text x="293.60" y="518.13" font-size="7.5" text-anchor="end" font-weight="normal" fill="#1c1c1c" stroke="#1c1c1c" stroke-width="0.15">8</text>
<line x1="296.40" y1="500.45" x2="299.90" y2="500.45" stroke="#111" stroke-width="0.9" />
<text x="293.60" y="503.15" font-size="7.5" text-anchor="end" font-weight="normal" fill="#1c1c1c" stroke="#1c1c1c" stroke-width="0.15">10</text>
<line x1="296.40" y1="485.47" x2="299.90" y2="485.47" stroke="#111" stroke-width="0.9" />
<text x="293.60" y="488.17" font-size="7.5" text-anchor="end" font-weight="normal" fill="#1c1c1c" stroke="#1c1c1c" stroke-width="0.15">12</text>
<line x1="296.40" y1="470.48" x2="299.90" y2="470.48" stroke="#111" stroke-width="0.9" />
<text x="293.60" y="473.18" font-size="7.5" text-anchor="end" font-weight="normal" fill="#1c1c1c" stroke="#1c1c1c" stroke-width="0.15">14</text>
<line x1="296.40" y1="455.50" x2="299.90" y2="455.50" stroke="#111" stroke-width="0.9" />
<text x="293.60" y="458.20" font-size="7.5" text-anchor="end" font-weight="normal" fill="#1c1c1c" stroke="#1c1c1c" stroke-width="0.15">16</text>
<line x1="299.45" y1="545.40" x2="386.40" y2="545.40" stroke="#111" stroke-width="0.9" />
<line x1="302.30" y1="545.40" x2="302.30" y2="548.40" stroke="#111" stroke-width="0.8" />
<text x="302.80" y="558.50" font-size="7.1" text-anchor="middle" font-weight="normal" fill="#1c1c1c"  stroke="#1c1c1c" stroke-width="0.18">0</text>
<line x1="314.60" y1="545.40" x2="314.60" y2="548.40" stroke="#111" stroke-width="0.8" />
<text x="315.10" y="558.50" font-size="7.1" text-anchor="middle" font-weight="normal" fill="#1c1c1c"  stroke="#1c1c1c" stroke-width="0.18">2</text>
<line x1="326.90" y1="545.40" x2="326.90" y2="548.40" stroke="#111" stroke-width="0.8" />
<text x="327.40" y="558.50" font-size="7.1" text-anchor="middle" font-weight="normal" fill="#1c1c1c"  stroke="#1c1c1c" stroke-width="0.18">4</text>
<line x1="339.20" y1="545.40" x2="339.20" y2="548.40" stroke="#111" stroke-width="0.8" />
<text x="339.70" y="558.50" font-size="7.1" text-anchor="middle" font-weight="normal" fill="#1c1c1c"  stroke="#1c1c1c" stroke-width="0.18">6</text>
<line x1="351.50" y1="545.40" x2="351.50" y2="548.40" stroke="#111" stroke-width="0.8" />
<text x="352.00" y="558.50" font-size="7.1" text-anchor="middle" font-weight="normal" fill="#1c1c1c"  stroke="#1c1c1c" stroke-width="0.18">8</text>
<line x1="363.80" y1="545.40" x2="363.80" y2="548.40" stroke="#111" stroke-width="0.8" />
<text x="364.30" y="558.50" font-size="7.1" text-anchor="middle" font-weight="normal" fill="#1c1c1c"  stroke="#1c1c1c" stroke-width="0.18">10</text>
<line x1="376.10" y1="545.40" x2="376.10" y2="548.40" stroke="#111" stroke-width="0.8" />
<text x="376.60" y="558.50" font-size="7.1" text-anchor="middle" font-weight="normal" fill="#1c1c1c"  stroke="#1c1c1c" stroke-width="0.18">12</text>
<polyline points="302.30,493.71 326.90,483.97 351.50,469.73 376.10,467.49" fill="none" stroke="#7c7c7c" stroke-width="1.3"/>
<line x1="302.30" y1="486.96" x2="302.30" y2="500.45" stroke="#7c7c7c" stroke-width="0.8" />
<line x1="301.00" y1="486.96" x2="303.60" y2="486.96" stroke="#7c7c7c" stroke-width="0.7" />
<line x1="301.00" y1="500.45" x2="303.60" y2="500.45" stroke="#7c7c7c" stroke-width="0.7" />
<circle cx="302.30" cy="493.71" r="1.1" fill="#7c7c7c"/>
<line x1="326.90" y1="477.23" x2="326.90" y2="490.71" stroke="#7c7c7c" stroke-width="0.8" />
<line x1="325.60" y1="477.23" x2="328.20" y2="477.23" stroke="#7c7c7c" stroke-width="0.7" />
<line x1="325.60" y1="490.71" x2="328.20" y2="490.71" stroke="#7c7c7c" stroke-width="0.7" />
<circle cx="326.90" cy="483.97" r="1.1" fill="#7c7c7c"/>
<line x1="351.50" y1="460.74" x2="351.50" y2="478.72" stroke="#7c7c7c" stroke-width="0.8" />
<line x1="350.20" y1="460.74" x2="352.80" y2="460.74" stroke="#7c7c7c" stroke-width="0.7" />
<line x1="350.20" y1="478.72" x2="352.80" y2="478.72" stroke="#7c7c7c" stroke-width="0.7" />
<circle cx="351.50" cy="469.73" r="1.1" fill="#7c7c7c"/>
<line x1="376.10" y1="459.25" x2="376.10" y2="475.73" stroke="#7c7c7c" stroke-width="0.8" />
<line x1="374.80" y1="459.25" x2="377.40" y2="459.25" stroke="#7c7c7c" stroke-width="0.7" />
<line x1="374.80" y1="475.73" x2="377.40" y2="475.73" stroke="#7c7c7c" stroke-width="0.7" />
<circle cx="376.10" cy="467.49" r="1.1" fill="#7c7c7c"/>
<polyline points="302.30,522.92 326.90,522.18 351.50,521.43 376.10,521.43" fill="none" stroke="#22a050" stroke-width="1.3"/>
<line x1="302.30" y1="517.68" x2="302.30" y2="528.17" stroke="#22a050" stroke-width="0.8" />
<line x1="301.00" y1="517.68" x2="303.60" y2="517.68" stroke="#22a050" stroke-width="0.7" />
<line x1="301.00" y1="528.17" x2="303.60" y2="528.17" stroke="#22a050" stroke-width="0.7" />
<circle cx="302.30" cy="522.92" r="1.1" fill="#22a050"/>
<line x1="326.90" y1="516.93" x2="326.90" y2="527.42" stroke="#22a050" stroke-width="0.8" />
<line x1="325.60" y1="516.93" x2="328.20" y2="516.93" stroke="#22a050" stroke-width="0.7" />
<line x1="325.60" y1="527.42" x2="328.20" y2="527.42" stroke="#22a050" stroke-width="0.7" />
<circle cx="326.90" cy="522.18" r="1.1" fill="#22a050"/>
<line x1="351.50" y1="516.18" x2="351.50" y2="526.67" stroke="#22a050" stroke-width="0.8" />
<line x1="350.20" y1="516.18" x2="352.80" y2="516.18" stroke="#22a050" stroke-width="0.7" />
<line x1="350.20" y1="526.67" x2="352.80" y2="526.67" stroke="#22a050" stroke-width="0.7" />
<circle cx="351.50" cy="521.43" r="1.1" fill="#22a050"/>
<line x1="376.10" y1="516.18" x2="376.10" y2="526.67" stroke="#22a050" stroke-width="0.8" />
<line x1="374.80" y1="516.18" x2="377.40" y2="516.18" stroke="#22a050" stroke-width="0.7" />
<line x1="374.80" y1="526.67" x2="377.40" y2="526.67" stroke="#22a050" stroke-width="0.7" />
<circle cx="376.10" cy="521.43" r="1.1" fill="#22a050"/>
<polyline points="302.30,519.18 326.90,519.18 351.50,517.68 376.10,517.68" fill="none" stroke="#94309c" stroke-width="1.3"/>
<line x1="302.30" y1="513.94" x2="302.30" y2="524.42" stroke="#94309c" stroke-width="0.8" />
<line x1="301.00" y1="513.94" x2="303.60" y2="513.94" stroke="#94309c" stroke-width="0.7" />
<line x1="301.00" y1="524.42" x2="303.60" y2="524.42" stroke="#94309c" stroke-width="0.7" />
<circle cx="302.30" cy="519.18" r="1.1" fill="#94309c"/>
<line x1="326.90" y1="513.94" x2="326.90" y2="524.42" stroke="#94309c" stroke-width="0.8" />
<line x1="325.60" y1="513.94" x2="328.20" y2="513.94" stroke="#94309c" stroke-width="0.7" />
<line x1="325.60" y1="524.42" x2="328.20" y2="524.42" stroke="#94309c" stroke-width="0.7" />
<circle cx="326.90" cy="519.18" r="1.1" fill="#94309c"/>
<line x1="351.50" y1="511.69" x2="351.50" y2="523.67" stroke="#94309c" stroke-width="0.8" />
<line x1="350.20" y1="511.69" x2="352.80" y2="511.69" stroke="#94309c" stroke-width="0.7" />
<line x1="350.20" y1="523.67" x2="352.80" y2="523.67" stroke="#94309c" stroke-width="0.7" />
<circle cx="351.50" cy="517.68" r="1.1" fill="#94309c"/>
<line x1="376.10" y1="511.69" x2="376.10" y2="523.67" stroke="#94309c" stroke-width="0.8" />
<line x1="374.80" y1="511.69" x2="377.40" y2="511.69" stroke="#94309c" stroke-width="0.7" />
<line x1="374.80" y1="523.67" x2="377.40" y2="523.67" stroke="#94309c" stroke-width="0.7" />
<circle cx="376.10" cy="517.68" r="1.1" fill="#94309c"/>
<polyline points="302.30,513.93 326.90,513.19 351.50,511.69 376.10,511.69" fill="none" stroke="#2a62ae" stroke-width="1.3"/>
<line x1="302.30" y1="507.94" x2="302.30" y2="519.93" stroke="#2a62ae" stroke-width="0.8" />
<line x1="301.00" y1="507.94" x2="303.60" y2="507.94" stroke="#2a62ae" stroke-width="0.7" />
<line x1="301.00" y1="519.93" x2="303.60" y2="519.93" stroke="#2a62ae" stroke-width="0.7" />
<circle cx="302.30" cy="513.93" r="1.1" fill="#2a62ae"/>
<line x1="326.90" y1="506.44" x2="326.90" y2="519.93" stroke="#2a62ae" stroke-width="0.8" />
<line x1="325.60" y1="506.44" x2="328.20" y2="506.44" stroke="#2a62ae" stroke-width="0.7" />
<line x1="325.60" y1="519.93" x2="328.20" y2="519.93" stroke="#2a62ae" stroke-width="0.7" />
<circle cx="326.90" cy="513.19" r="1.1" fill="#2a62ae"/>
<line x1="351.50" y1="504.20" x2="351.50" y2="519.18" stroke="#2a62ae" stroke-width="0.8" />
<line x1="350.20" y1="504.20" x2="352.80" y2="504.20" stroke="#2a62ae" stroke-width="0.7" />
<line x1="350.20" y1="519.18" x2="352.80" y2="519.18" stroke="#2a62ae" stroke-width="0.7" />
<circle cx="351.50" cy="511.69" r="1.1" fill="#2a62ae"/>
<line x1="376.10" y1="504.20" x2="376.10" y2="519.18" stroke="#2a62ae" stroke-width="0.8" />
<line x1="374.80" y1="504.20" x2="377.40" y2="504.20" stroke="#2a62ae" stroke-width="0.7" />
<line x1="374.80" y1="519.18" x2="377.40" y2="519.18" stroke="#2a62ae" stroke-width="0.7" />
<circle cx="376.10" cy="511.69" r="1.1" fill="#2a62ae"/>
<path d="M303.80,507.49L303.80,503.89M302.24,506.59L305.36,504.79M302.24,504.79L305.36,506.59" stroke="#151515" stroke-width="0.9" stroke-linecap="round"/>
<circle cx="303.80" cy="505.69" r="1.0" fill="#151515"/>
<path d="M326.90,502.25L326.90,498.65M325.34,501.35L328.46,499.55M325.34,499.55L328.46,501.35" stroke="#151515" stroke-width="0.9" stroke-linecap="round"/>
<circle cx="326.90" cy="500.45" r="1.0" fill="#151515"/>
<path d="M351.50,501.50L351.50,497.90M349.94,500.60L353.06,498.80M349.94,498.80L353.06,500.60" stroke="#151515" stroke-width="0.9" stroke-linecap="round"/>
<circle cx="351.50" cy="499.70" r="1.0" fill="#151515"/>
<path d="M376.10,501.50L376.10,497.90M374.54,500.60L377.66,498.80M374.54,498.80L377.66,500.60" stroke="#151515" stroke-width="0.9" stroke-linecap="round"/>
<circle cx="376.10" cy="499.70" r="1.0" fill="#151515"/>
<text transform="translate(278.00,499.10) rotate(-90)" font-size="8.4" text-anchor="middle" fill="#1c1c1c" textLength="45.2" lengthAdjust="spacingAndGlyphs" stroke="#1c1c1c" stroke-width="0.28">RBC (× 10<tspan font-size="6.2" dy="-2.7">6</tspan><tspan dy="2.7">/μl)</tspan></text>
<line x1="425.60" y1="452.50" x2="425.60" y2="545.70" stroke="#111" stroke-width="1.0" />
<line x1="422.10" y1="545.20" x2="425.60" y2="545.20" stroke="#111" stroke-width="0.9" />
<text x="419.30" y="547.90" font-size="7.5" text-anchor="end" font-weight="normal" fill="#1c1c1c" stroke="#1c1c1c" stroke-width="0.15">4</text>
<line x1="422.10" y1="527.26" x2="425.60" y2="527.26" stroke="#111" stroke-width="0.9" />
<text x="419.30" y="529.96" font-size="7.5" text-anchor="end" font-weight="normal" fill="#1c1c1c" stroke="#1c1c1c" stroke-width="0.15">8</text>
<line x1="422.10" y1="509.32" x2="425.60" y2="509.32" stroke="#111" stroke-width="0.9" />
<text x="419.30" y="512.02" font-size="7.5" text-anchor="end" font-weight="normal" fill="#1c1c1c" stroke="#1c1c1c" stroke-width="0.15">12</text>
<line x1="422.10" y1="491.38" x2="425.60" y2="491.38" stroke="#111" stroke-width="0.9" />
<text x="419.30" y="494.08" font-size="7.5" text-anchor="end" font-weight="normal" fill="#1c1c1c" stroke="#1c1c1c" stroke-width="0.15">16</text>
<line x1="422.10" y1="473.44" x2="425.60" y2="473.44" stroke="#111" stroke-width="0.9" />
<text x="419.30" y="476.14" font-size="7.5" text-anchor="end" font-weight="normal" fill="#1c1c1c" stroke="#1c1c1c" stroke-width="0.15">20</text>
<line x1="422.10" y1="455.50" x2="425.60" y2="455.50" stroke="#111" stroke-width="0.9" />
<text x="419.30" y="458.20" font-size="7.5" text-anchor="end" font-weight="normal" fill="#1c1c1c" stroke="#1c1c1c" stroke-width="0.15">24</text>
<line x1="425.15" y1="545.20" x2="512.30" y2="545.20" stroke="#111" stroke-width="0.9" />
<line x1="427.70" y1="545.20" x2="427.70" y2="548.20" stroke="#111" stroke-width="0.8" />
<text x="428.20" y="558.30" font-size="7.1" text-anchor="middle" font-weight="normal" fill="#1c1c1c"  stroke="#1c1c1c" stroke-width="0.18">0</text>
<line x1="439.40" y1="545.20" x2="439.40" y2="548.20" stroke="#111" stroke-width="0.8" />
<text x="439.90" y="558.30" font-size="7.1" text-anchor="middle" font-weight="normal" fill="#1c1c1c"  stroke="#1c1c1c" stroke-width="0.18">2</text>
<line x1="451.10" y1="545.20" x2="451.10" y2="548.20" stroke="#111" stroke-width="0.8" />
<text x="451.60" y="558.30" font-size="7.1" text-anchor="middle" font-weight="normal" fill="#1c1c1c"  stroke="#1c1c1c" stroke-width="0.18">4</text>
<line x1="462.80" y1="545.20" x2="462.80" y2="548.20" stroke="#111" stroke-width="0.8" />
<text x="463.30" y="558.30" font-size="7.1" text-anchor="middle" font-weight="normal" fill="#1c1c1c"  stroke="#1c1c1c" stroke-width="0.18">6</text>
<line x1="474.50" y1="545.20" x2="474.50" y2="548.20" stroke="#111" stroke-width="0.8" />
<text x="475.00" y="558.30" font-size="7.1" text-anchor="middle" font-weight="normal" fill="#1c1c1c"  stroke="#1c1c1c" stroke-width="0.18">8</text>
<line x1="486.20" y1="545.20" x2="486.20" y2="548.20" stroke="#111" stroke-width="0.8" />
<text x="486.70" y="558.30" font-size="7.1" text-anchor="middle" font-weight="normal" fill="#1c1c1c"  stroke="#1c1c1c" stroke-width="0.18">10</text>
<line x1="497.90" y1="545.20" x2="497.90" y2="548.20" stroke="#111" stroke-width="0.8" />
<text x="498.40" y="558.30" font-size="7.1" text-anchor="middle" font-weight="normal" fill="#1c1c1c"  stroke="#1c1c1c" stroke-width="0.18">12</text>
<polyline points="427.70,494.52 451.10,484.65 474.50,473.44 497.90,471.20" fill="none" stroke="#7c7c7c" stroke-width="1.3"/>
<line x1="427.70" y1="490.48" x2="427.70" y2="498.56" stroke="#7c7c7c" stroke-width="0.8" />
<line x1="426.40" y1="490.48" x2="429.00" y2="490.48" stroke="#7c7c7c" stroke-width="0.7" />
<line x1="426.40" y1="498.56" x2="429.00" y2="498.56" stroke="#7c7c7c" stroke-width="0.7" />
<circle cx="427.70" cy="494.52" r="1.1" fill="#7c7c7c"/>
<line x1="451.10" y1="481.51" x2="451.10" y2="487.79" stroke="#7c7c7c" stroke-width="0.8" />
<line x1="449.80" y1="481.51" x2="452.40" y2="481.51" stroke="#7c7c7c" stroke-width="0.7" />
<line x1="449.80" y1="487.79" x2="452.40" y2="487.79" stroke="#7c7c7c" stroke-width="0.7" />
<circle cx="451.10" cy="484.65" r="1.1" fill="#7c7c7c"/>
<line x1="474.50" y1="466.71" x2="474.50" y2="480.17" stroke="#7c7c7c" stroke-width="0.8" />
<line x1="473.20" y1="466.71" x2="475.80" y2="466.71" stroke="#7c7c7c" stroke-width="0.7" />
<line x1="473.20" y1="480.17" x2="475.80" y2="480.17" stroke="#7c7c7c" stroke-width="0.7" />
<circle cx="474.50" cy="473.44" r="1.1" fill="#7c7c7c"/>
<line x1="497.90" y1="464.47" x2="497.90" y2="477.93" stroke="#7c7c7c" stroke-width="0.8" />
<line x1="496.60" y1="464.47" x2="499.20" y2="464.47" stroke="#7c7c7c" stroke-width="0.7" />
<line x1="496.60" y1="477.93" x2="499.20" y2="477.93" stroke="#7c7c7c" stroke-width="0.7" />
<circle cx="497.90" cy="471.20" r="1.1" fill="#7c7c7c"/>
<polyline points="427.70,524.12 451.10,523.67 474.50,522.78 497.90,523.22" fill="none" stroke="#22a050" stroke-width="1.3"/>
<line x1="427.70" y1="518.74" x2="427.70" y2="529.50" stroke="#22a050" stroke-width="0.8" />
<line x1="426.40" y1="518.74" x2="429.00" y2="518.74" stroke="#22a050" stroke-width="0.7" />
<line x1="426.40" y1="529.50" x2="429.00" y2="529.50" stroke="#22a050" stroke-width="0.7" />
<circle cx="427.70" cy="524.12" r="1.1" fill="#22a050"/>
<line x1="451.10" y1="518.29" x2="451.10" y2="529.05" stroke="#22a050" stroke-width="0.8" />
<line x1="449.80" y1="518.29" x2="452.40" y2="518.29" stroke="#22a050" stroke-width="0.7" />
<line x1="449.80" y1="529.05" x2="452.40" y2="529.05" stroke="#22a050" stroke-width="0.7" />
<circle cx="451.10" cy="523.67" r="1.1" fill="#22a050"/>
<line x1="474.50" y1="516.50" x2="474.50" y2="529.05" stroke="#22a050" stroke-width="0.8" />
<line x1="473.20" y1="516.50" x2="475.80" y2="516.50" stroke="#22a050" stroke-width="0.7" />
<line x1="473.20" y1="529.05" x2="475.80" y2="529.05" stroke="#22a050" stroke-width="0.7" />
<circle cx="474.50" cy="522.78" r="1.1" fill="#22a050"/>
<line x1="497.90" y1="516.50" x2="497.90" y2="529.95" stroke="#22a050" stroke-width="0.8" />
<line x1="496.60" y1="516.50" x2="499.20" y2="516.50" stroke="#22a050" stroke-width="0.7" />
<line x1="496.60" y1="529.95" x2="499.20" y2="529.95" stroke="#22a050" stroke-width="0.7" />
<circle cx="497.90" cy="523.22" r="1.1" fill="#22a050"/>
<polyline points="427.70,521.88 451.10,522.33 474.50,522.33 497.90,522.33" fill="none" stroke="#94309c" stroke-width="1.3"/>
<line x1="427.70" y1="517.39" x2="427.70" y2="526.36" stroke="#94309c" stroke-width="0.8" />
<line x1="426.40" y1="517.39" x2="429.00" y2="517.39" stroke="#94309c" stroke-width="0.7" />
<line x1="426.40" y1="526.36" x2="429.00" y2="526.36" stroke="#94309c" stroke-width="0.7" />
<circle cx="427.70" cy="521.88" r="1.1" fill="#94309c"/>
<line x1="451.10" y1="517.84" x2="451.10" y2="526.81" stroke="#94309c" stroke-width="0.8" />
<line x1="449.80" y1="517.84" x2="452.40" y2="517.84" stroke="#94309c" stroke-width="0.7" />
<line x1="449.80" y1="526.81" x2="452.40" y2="526.81" stroke="#94309c" stroke-width="0.7" />
<circle cx="451.10" cy="522.33" r="1.1" fill="#94309c"/>
<line x1="474.50" y1="517.84" x2="474.50" y2="526.81" stroke="#94309c" stroke-width="0.8" />
<line x1="473.20" y1="517.84" x2="475.80" y2="517.84" stroke="#94309c" stroke-width="0.7" />
<line x1="473.20" y1="526.81" x2="475.80" y2="526.81" stroke="#94309c" stroke-width="0.7" />
<circle cx="474.50" cy="522.33" r="1.1" fill="#94309c"/>
<line x1="497.90" y1="517.84" x2="497.90" y2="526.81" stroke="#94309c" stroke-width="0.8" />
<line x1="496.60" y1="517.84" x2="499.20" y2="517.84" stroke="#94309c" stroke-width="0.7" />
<line x1="496.60" y1="526.81" x2="499.20" y2="526.81" stroke="#94309c" stroke-width="0.7" />
<circle cx="497.90" cy="522.33" r="1.1" fill="#94309c"/>
<polyline points="427.70,519.19 451.10,519.19 474.50,519.19 497.90,518.29" fill="none" stroke="#2a62ae" stroke-width="1.3"/>
<line x1="427.70" y1="513.81" x2="427.70" y2="524.57" stroke="#2a62ae" stroke-width="0.8" />
<line x1="426.40" y1="513.81" x2="429.00" y2="513.81" stroke="#2a62ae" stroke-width="0.7" />
<line x1="426.40" y1="524.57" x2="429.00" y2="524.57" stroke="#2a62ae" stroke-width="0.7" />
<circle cx="427.70" cy="519.19" r="1.1" fill="#2a62ae"/>
<line x1="451.10" y1="513.36" x2="451.10" y2="525.02" stroke="#2a62ae" stroke-width="0.8" />
<line x1="449.80" y1="513.36" x2="452.40" y2="513.36" stroke="#2a62ae" stroke-width="0.7" />
<line x1="449.80" y1="525.02" x2="452.40" y2="525.02" stroke="#2a62ae" stroke-width="0.7" />
<circle cx="451.10" cy="519.19" r="1.1" fill="#2a62ae"/>
<line x1="474.50" y1="513.81" x2="474.50" y2="524.57" stroke="#2a62ae" stroke-width="0.8" />
<line x1="473.20" y1="513.81" x2="475.80" y2="513.81" stroke="#2a62ae" stroke-width="0.7" />
<line x1="473.20" y1="524.57" x2="475.80" y2="524.57" stroke="#2a62ae" stroke-width="0.7" />
<circle cx="474.50" cy="519.19" r="1.1" fill="#2a62ae"/>
<line x1="497.90" y1="513.81" x2="497.90" y2="522.78" stroke="#2a62ae" stroke-width="0.8" />
<line x1="496.60" y1="513.81" x2="499.20" y2="513.81" stroke="#2a62ae" stroke-width="0.7" />
<line x1="496.60" y1="522.78" x2="499.20" y2="522.78" stroke="#2a62ae" stroke-width="0.7" />
<circle cx="497.90" cy="518.29" r="1.1" fill="#2a62ae"/>
<path d="M429.20,511.12L429.20,507.52M427.64,510.22L430.76,508.42M427.64,508.42L430.76,510.22" stroke="#151515" stroke-width="0.9" stroke-linecap="round"/>
<circle cx="429.20" cy="509.32" r="1.0" fill="#151515"/>
<path d="M451.10,511.12L451.10,507.52M449.54,510.22L452.66,508.42M449.54,508.42L452.66,510.22" stroke="#151515" stroke-width="0.9" stroke-linecap="round"/>
<circle cx="451.10" cy="509.32" r="1.0" fill="#151515"/>
<path d="M474.50,511.12L474.50,507.52M472.94,510.22L476.06,508.42M472.94,508.42L476.06,510.22" stroke="#151515" stroke-width="0.9" stroke-linecap="round"/>
<circle cx="474.50" cy="509.32" r="1.0" fill="#151515"/>
<path d="M497.90,511.12L497.90,507.52M496.34,510.22L499.46,508.42M496.34,508.42L499.46,510.22" stroke="#151515" stroke-width="0.9" stroke-linecap="round"/>
<circle cx="497.90" cy="509.32" r="1.0" fill="#151515"/>
<text transform="translate(404.40,499.00) rotate(-90)" font-size="8.4" text-anchor="middle" fill="#1c1c1c" textLength="26.8" lengthAdjust="spacingAndGlyphs" stroke="#1c1c1c" stroke-width="0.28">Hb (g/dl)</text>
<text x="93.0" y="571.5999999999999" font-size="9.3" text-anchor="middle" fill="#1c1c1c" stroke="#1c1c1c" stroke-width="0.28" textLength="34" lengthAdjust="spacingAndGlyphs">Time (days)</text>
<text x="213.3" y="571.9" font-size="9.3" text-anchor="middle" fill="#1c1c1c" stroke="#1c1c1c" stroke-width="0.28" textLength="34" lengthAdjust="spacingAndGlyphs">Time (days)</text>
<text x="343.7" y="571.6999999999999" font-size="9.3" text-anchor="middle" fill="#1c1c1c" stroke="#1c1c1c" stroke-width="0.28" textLength="34" lengthAdjust="spacingAndGlyphs">Time (days)</text>
<text x="469.3" y="571.5" font-size="9.3" text-anchor="middle" fill="#1c1c1c" stroke="#1c1c1c" stroke-width="0.28" textLength="34" lengthAdjust="spacingAndGlyphs">Time (days)</text>
<line x1="47.30" y1="582.70" x2="55.60" y2="582.70" stroke="#7c7c7c" stroke-width="1.0" />
<circle cx="51.5" cy="582.7" r="1.5" fill="#7c7c7c"/>
<text x="59.50" y="585.40" font-size="7.6" text-anchor="start" font-weight="normal" fill="#222"  stroke="#222" stroke-width="0.18">K3WT</text>
<line x1="47.30" y1="594.25" x2="55.60" y2="594.25" stroke="#2a62ae" stroke-width="1.0" />
<polygon points="51.5,592.35 53.4,594.25 51.5,596.15 49.6,594.25" fill="#2a62ae"/>
<text x="59.50" y="596.95" font-size="7.6" text-anchor="start" font-weight="normal" fill="#222"  stroke="#222" stroke-width="0.18">K3KO/EpoR-cre</text>
<line x1="47.30" y1="605.80" x2="55.60" y2="605.80" stroke="#94309c" stroke-width="1.0" />
<polygon points="49.5,604.3000000000001 53.5,604.3000000000001 51.5,607.6" fill="#94309c"/>
<text x="59.50" y="608.50" font-size="7.6" text-anchor="start" font-weight="normal" fill="#222"  stroke="#222" stroke-width="0.18">K3KO/Lyz2-cre</text>
<line x1="47.30" y1="617.35" x2="55.60" y2="617.35" stroke="#22a050" stroke-width="1.0" />
<polygon points="49.5,618.85 53.5,618.85 51.5,615.5500000000001" fill="#22a050"/>
<text x="59.50" y="620.05" font-size="7.6" text-anchor="start" font-weight="normal" fill="#222"  stroke="#222" stroke-width="0.18">K3KI</text>
<rect x="0.5" y="0.5" width="519" height="627" fill="none" stroke="#5c5c5c" stroke-width="1"/>
</svg></div>
</body></html>
